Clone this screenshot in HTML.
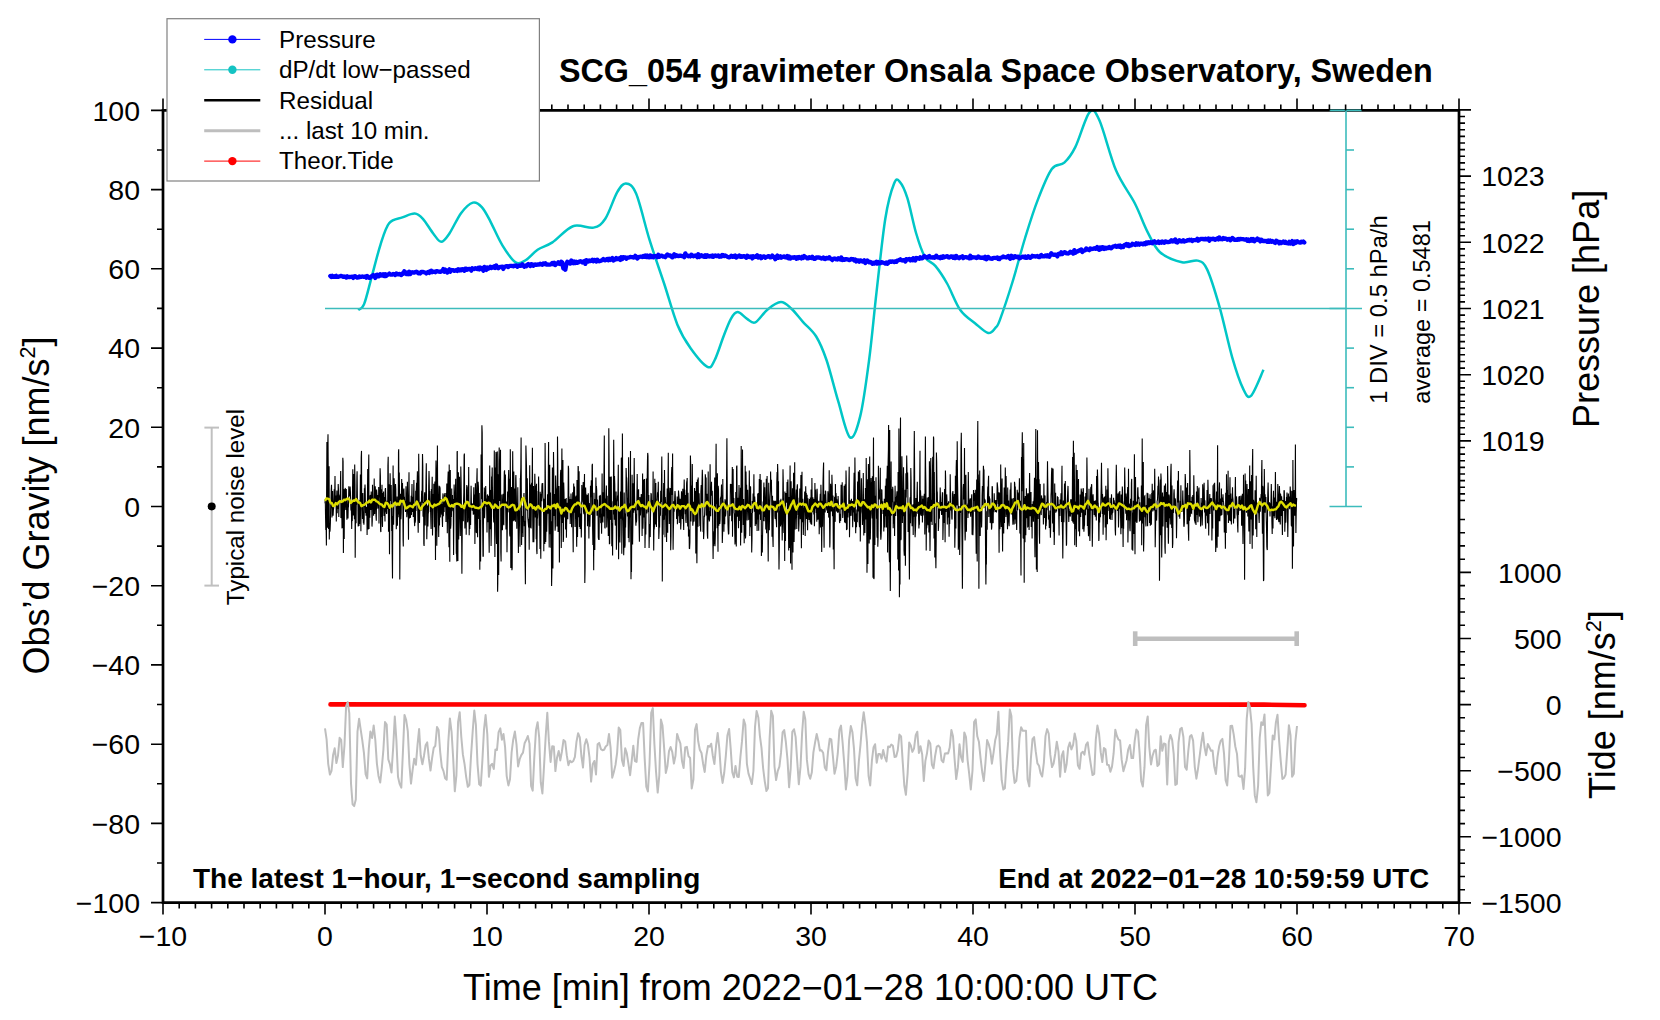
<!DOCTYPE html><html><head><meta charset="utf-8"><style>html,body{margin:0;padding:0;background:#fff;}svg{display:block;}text{font-family:"Liberation Sans",sans-serif;}</style></head><body>
<svg width="1660" height="1020" viewBox="0 0 1660 1020">
<rect width="1660" height="1020" fill="#fff"/>
<polyline fill="none" stroke="#000" stroke-width="1.1" shape-rendering="auto" points="325.0,503.3 325.3,499.2 325.5,514.1 325.8,530.1 326.1,523.4 326.4,545.6 326.6,496.4 326.9,442.0 327.2,514.4 327.4,527.7 327.7,448.9 328.0,434.3 328.2,466.9 328.5,529.1 328.8,474.4 329.1,466.3 329.3,539.6 329.6,523.5 329.9,531.8 330.1,530.0 330.4,522.5 330.7,504.9 330.9,508.1 331.2,490.3 331.5,484.7 331.8,498.8 332.0,517.6 332.3,506.2 332.6,491.1 332.8,500.2 333.1,515.8 333.4,509.8 333.6,509.1 333.9,504.2 334.2,489.2 334.5,507.0 334.7,496.6 335.0,476.1 335.3,503.9 335.5,505.1 335.8,495.4 336.1,503.8 336.3,521.5 336.6,499.5 336.9,490.4 337.2,513.3 337.4,494.8 337.7,499.8 338.0,508.9 338.2,484.1 338.5,490.0 338.8,516.9 339.0,503.3 339.3,495.6 339.6,502.3 339.9,494.6 340.1,503.0 340.4,485.9 340.7,471.1 340.9,518.1 341.2,512.0 341.5,502.4 341.7,502.6 342.0,527.7 342.3,527.6 342.6,507.1 342.8,457.7 343.1,461.4 343.4,553.0 343.6,519.7 343.9,488.9 344.2,538.9 344.4,511.9 344.7,500.0 345.0,490.3 345.3,487.9 345.5,504.4 345.8,509.9 346.1,493.9 346.3,489.0 346.6,505.6 346.9,519.8 347.1,499.6 347.4,504.1 347.7,514.6 348.0,518.4 348.2,508.0 348.5,506.5 348.8,486.3 349.0,491.6 349.3,496.3 349.6,489.4 349.8,496.5 350.1,486.6 350.4,491.8 350.7,502.5 350.9,510.6 351.2,503.1 351.5,516.2 351.7,528.9 352.0,510.6 352.3,521.1 352.5,493.2 352.8,469.2 353.1,505.6 353.4,515.5 353.6,477.7 353.9,474.1 354.2,507.3 354.4,519.3 354.7,464.6 355.0,484.2 355.2,557.8 355.5,511.6 355.8,500.8 356.1,523.3 356.3,500.6 356.6,504.9 356.9,476.4 357.1,471.3 357.4,498.3 357.7,499.6 357.9,502.2 358.2,526.4 358.5,510.8 358.8,503.1 359.0,525.9 359.3,504.0 359.6,523.9 359.8,500.1 360.1,503.5 360.4,474.5 360.6,491.4 360.9,531.2 361.2,457.4 361.5,450.9 361.7,501.5 362.0,504.5 362.3,511.0 362.5,519.1 362.8,493.0 363.1,511.9 363.4,523.2 363.6,511.4 363.9,524.8 364.2,518.2 364.4,488.3 364.7,492.2 365.0,484.5 365.2,488.4 365.5,513.1 365.8,508.4 366.1,515.7 366.3,506.9 366.6,509.5 366.9,515.7 367.1,535.1 367.4,506.6 367.7,469.0 367.9,504.5 368.2,529.6 368.5,472.0 368.8,454.5 369.0,529.1 369.3,505.2 369.6,508.3 369.8,517.7 370.1,495.8 370.4,495.5 370.6,504.9 370.9,509.9 371.2,491.5 371.5,500.7 371.7,502.4 372.0,526.6 372.3,520.6 372.5,484.7 372.8,504.2 373.1,503.9 373.3,498.0 373.6,515.8 373.9,509.1 374.2,478.4 374.4,502.6 374.7,513.9 375.0,501.3 375.2,486.2 375.5,491.2 375.8,500.0 376.0,516.0 376.3,520.7 376.6,489.6 376.9,493.8 377.1,508.8 377.4,501.9 377.7,494.9 377.9,495.6 378.2,500.8 378.5,508.5 378.7,486.9 379.0,523.4 379.3,497.1 379.6,490.3 379.8,497.5 380.1,468.3 380.4,476.5 380.6,530.6 380.9,532.1 381.2,489.2 381.4,516.9 381.7,505.7 382.0,484.7 382.3,523.4 382.5,526.9 382.8,494.9 383.1,492.9 383.3,501.1 383.6,491.5 383.9,510.6 384.1,516.1 384.4,497.0 384.7,509.2 385.0,521.4 385.2,489.6 385.5,488.0 385.8,499.1 386.0,511.0 386.3,511.8 386.6,513.9 386.8,512.6 387.1,500.8 387.4,509.0 387.7,503.0 387.9,465.8 388.2,456.7 388.5,531.8 388.7,493.7 389.0,484.2 389.3,515.9 389.5,554.3 389.8,511.8 390.1,473.2 390.4,492.4 390.6,500.8 390.9,499.0 391.2,484.9 391.4,500.5 391.7,531.1 392.0,516.1 392.2,554.0 392.5,578.6 392.8,517.7 393.1,465.6 393.3,497.3 393.6,524.7 393.9,507.9 394.1,478.2 394.4,487.7 394.7,500.7 394.9,502.1 395.2,499.1 395.5,484.1 395.8,488.9 396.0,507.3 396.3,529.3 396.6,511.2 396.8,512.8 397.1,496.5 397.4,525.7 397.7,508.1 397.9,504.4 398.2,517.2 398.5,451.7 398.7,449.2 399.0,514.6 399.3,472.6 399.5,491.1 399.8,579.4 400.1,526.4 400.4,493.7 400.6,515.2 400.9,519.3 401.2,513.0 401.4,496.4 401.7,479.0 402.0,496.9 402.2,501.9 402.5,482.9 402.8,503.3 403.1,540.0 403.3,546.6 403.6,491.1 403.9,488.5 404.1,497.6 404.4,496.9 404.7,502.7 404.9,500.9 405.2,508.5 405.5,512.0 405.8,505.5 406.0,486.3 406.3,496.8 406.6,506.2 406.8,517.3 407.1,513.5 407.4,481.8 407.6,494.4 407.9,504.3 408.2,508.7 408.5,539.8 408.7,496.4 409.0,472.2 409.3,512.7 409.5,518.4 409.8,501.7 410.1,506.4 410.3,518.0 410.6,514.8 410.9,505.7 411.2,495.7 411.4,515.0 411.7,498.3 412.0,483.9 412.2,506.8 412.5,511.9 412.8,496.7 413.0,499.0 413.3,516.9 413.6,496.2 413.9,479.9 414.1,504.5 414.4,521.4 414.7,526.1 414.9,505.9 415.2,522.6 415.5,519.8 415.7,490.8 416.0,511.1 416.3,489.8 416.6,482.8 416.8,501.4 417.1,485.1 417.4,471.3 417.6,500.0 417.9,520.1 418.2,532.8 418.4,510.8 418.7,453.8 419.0,478.8 419.3,517.8 419.5,522.9 419.8,509.7 420.1,502.3 420.3,508.2 420.6,505.3 420.9,501.6 421.1,510.7 421.4,499.9 421.7,490.8 422.0,502.7 422.2,487.8 422.5,454.1 422.8,466.1 423.0,515.7 423.3,517.0 423.6,502.1 423.8,543.6 424.1,546.0 424.4,497.3 424.7,492.3 424.9,509.0 425.2,525.6 425.5,504.9 425.7,506.5 426.0,481.0 426.3,463.2 426.5,494.3 426.8,539.2 427.1,523.4 427.4,505.4 427.6,512.0 427.9,526.4 428.2,513.6 428.4,513.0 428.7,487.8 429.0,471.0 429.2,478.3 429.5,502.7 429.8,491.0 430.1,501.7 430.3,512.0 430.6,510.4 430.9,523.5 431.1,529.1 431.4,489.0 431.7,506.6 431.9,494.2 432.2,476.7 432.5,535.4 432.8,520.8 433.0,494.1 433.3,498.1 433.6,508.7 433.8,483.8 434.1,498.7 434.4,527.3 434.7,517.9 434.9,481.4 435.2,503.6 435.5,560.1 435.7,488.6 436.0,460.4 436.3,472.9 436.5,497.5 436.8,545.7 437.1,516.7 437.4,445.5 437.6,483.2 437.9,488.4 438.2,505.5 438.4,513.2 438.7,536.9 439.0,509.3 439.2,485.7 439.5,525.4 439.8,486.7 440.1,488.6 440.3,517.6 440.6,508.1 440.9,502.0 441.1,499.2 441.4,511.3 441.7,514.7 441.9,504.0 442.2,517.9 442.5,526.9 442.8,497.2 443.0,493.4 443.3,516.3 443.6,504.7 443.8,509.6 444.1,512.1 444.4,494.6 444.6,500.5 444.9,492.9 445.2,507.3 445.5,499.6 445.7,504.9 446.0,522.0 446.3,492.9 446.5,502.4 446.8,483.6 447.1,501.6 447.3,533.3 447.6,509.0 447.9,479.7 448.2,471.4 448.4,508.5 448.7,523.9 449.0,547.3 449.2,464.5 449.5,524.7 449.8,561.8 450.0,488.5 450.3,470.0 450.6,528.8 450.9,524.8 451.1,512.9 451.4,517.1 451.7,488.4 451.9,511.2 452.2,508.4 452.5,494.9 452.7,506.3 453.0,498.9 453.3,512.4 453.6,555.0 453.8,528.2 454.1,484.6 454.4,496.8 454.6,502.9 454.9,493.4 455.2,502.9 455.4,491.4 455.7,478.7 456.0,513.5 456.3,553.8 456.5,550.4 456.8,561.5 457.1,452.1 457.3,451.1 457.6,543.5 457.9,560.9 458.1,483.0 458.4,472.3 458.7,539.4 459.0,516.0 459.2,498.8 459.5,476.8 459.8,511.0 460.0,512.8 460.3,535.9 460.6,518.3 460.8,466.4 461.1,481.7 461.4,506.9 461.7,543.2 461.9,573.8 462.2,534.1 462.5,507.5 462.7,510.8 463.0,514.6 463.3,521.2 463.5,503.5 463.8,492.8 464.1,455.2 464.4,453.6 464.6,504.4 464.9,528.5 465.2,503.7 465.4,524.1 465.7,522.9 466.0,514.9 466.2,534.8 466.5,490.7 466.8,485.0 467.1,488.4 467.3,486.5 467.6,522.3 467.9,520.5 468.1,502.8 468.4,507.5 468.7,467.0 468.9,500.2 469.2,535.3 469.5,503.8 469.8,529.1 470.0,509.0 470.3,506.6 470.6,525.1 470.8,502.7 471.1,485.7 471.4,503.2 471.7,503.8 471.9,506.0 472.2,510.6 472.5,507.9 472.7,503.5 473.0,505.4 473.3,514.8 473.5,502.2 473.8,487.3 474.1,514.3 474.4,500.9 474.6,494.4 474.9,543.9 475.2,499.8 475.4,483.3 475.7,492.4 476.0,491.4 476.2,532.2 476.5,532.4 476.8,479.8 477.1,468.2 477.3,507.1 477.6,537.2 477.9,494.6 478.1,481.8 478.4,486.6 478.7,503.9 478.9,519.1 479.2,492.9 479.5,511.9 479.8,569.8 480.0,520.1 480.3,525.0 480.6,561.6 480.8,513.2 481.1,454.4 481.4,499.3 481.6,483.1 481.9,425.2 482.2,432.8 482.5,498.6 482.7,527.3 483.0,556.2 483.3,556.2 483.5,505.6 483.8,512.7 484.1,507.2 484.3,487.5 484.6,518.3 484.9,505.8 485.2,494.8 485.4,494.8 485.7,486.0 486.0,500.5 486.2,506.8 486.5,498.6 486.8,516.5 487.0,532.6 487.3,495.7 487.6,494.5 487.9,506.1 488.1,522.2 488.4,515.3 488.7,495.7 488.9,533.4 489.2,552.8 489.5,508.4 489.7,465.4 490.0,493.9 490.3,529.3 490.6,490.7 490.8,491.0 491.1,546.0 491.4,527.1 491.6,476.5 491.9,485.9 492.2,467.6 492.4,485.8 492.7,505.8 493.0,502.0 493.3,499.2 493.5,516.8 493.8,522.5 494.1,480.5 494.3,450.6 494.6,525.9 494.9,557.0 495.1,478.5 495.4,467.4 495.7,482.3 496.0,452.1 496.2,532.8 496.5,543.9 496.8,514.5 497.0,456.5 497.3,451.4 497.6,591.8 497.8,583.3 498.1,474.3 498.4,558.1 498.7,574.9 498.9,464.3 499.2,447.6 499.5,487.9 499.7,501.0 500.0,462.8 500.3,469.2 500.5,449.8 500.8,552.6 501.1,561.4 501.4,506.4 501.6,529.1 501.9,494.6 502.2,507.8 502.4,530.2 502.7,518.8 503.0,510.4 503.2,493.7 503.5,520.2 503.8,525.3 504.1,483.7 504.3,471.8 504.6,470.3 504.9,505.9 505.1,497.1 505.4,474.4 505.7,506.8 506.0,529.6 506.2,509.2 506.5,501.5 506.8,524.4 507.0,552.3 507.3,525.8 507.6,491.6 507.8,511.5 508.1,512.3 508.4,480.1 508.7,470.1 508.9,484.7 509.2,478.7 509.5,510.5 509.7,533.9 510.0,536.4 510.3,449.2 510.5,491.6 510.8,568.1 511.1,552.0 511.4,507.7 511.6,487.1 511.9,570.3 512.2,567.9 512.4,508.8 512.7,451.2 513.0,489.4 513.2,521.2 513.5,491.8 513.8,471.6 514.1,515.4 514.3,520.5 514.6,489.7 514.9,488.5 515.1,514.0 515.4,521.8 515.7,478.3 515.9,475.1 516.2,490.1 516.5,505.1 516.8,528.8 517.0,503.6 517.3,503.5 517.6,503.4 517.8,487.3 518.1,526.4 518.4,552.9 518.6,507.0 518.9,515.3 519.2,526.3 519.5,510.5 519.7,529.8 520.0,546.8 520.3,478.1 520.5,478.9 520.8,467.7 521.1,437.6 521.3,487.9 521.6,545.1 521.9,517.7 522.2,532.7 522.4,516.5 522.7,516.3 523.0,536.9 523.2,505.7 523.5,522.0 523.8,495.9 524.0,493.1 524.3,526.3 524.6,520.8 524.9,523.9 525.1,560.1 525.4,584.3 525.7,515.4 525.9,445.4 526.2,456.1 526.5,467.7 526.7,491.2 527.0,510.5 527.3,478.2 527.6,503.6 527.8,517.4 528.1,521.2 528.4,524.8 528.6,527.4 528.9,518.7 529.2,549.7 529.4,511.2 529.7,465.3 530.0,503.6 530.3,527.7 530.5,484.5 530.8,491.9 531.1,528.4 531.3,511.4 531.6,482.8 531.9,504.1 532.1,489.5 532.4,447.7 532.7,519.3 533.0,542.3 533.2,505.1 533.5,486.0 533.8,542.3 534.0,535.9 534.3,509.8 534.6,495.1 534.8,473.7 535.1,485.7 535.4,517.4 535.7,485.5 535.9,495.5 536.2,539.3 536.5,483.7 536.7,550.0 537.0,554.1 537.3,516.9 537.5,518.4 537.8,512.0 538.1,490.9 538.4,492.0 538.6,476.6 538.9,500.1 539.2,525.7 539.4,513.3 539.7,523.4 540.0,549.0 540.2,491.7 540.5,538.8 540.8,558.8 541.1,500.1 541.3,493.7 541.6,501.2 541.9,486.4 542.1,483.3 542.4,492.8 542.7,483.0 543.0,497.2 543.2,498.7 543.5,502.2 543.8,551.2 544.0,516.8 544.3,498.8 544.6,516.3 544.8,544.0 545.1,443.0 545.4,481.6 545.7,541.9 545.9,534.2 546.2,510.5 546.5,510.9 546.7,531.8 547.0,516.7 547.3,510.5 547.5,494.3 547.8,510.4 548.1,513.8 548.4,462.5 548.6,442.1 548.9,520.4 549.2,547.4 549.4,500.2 549.7,464.8 550.0,532.8 550.2,534.3 550.5,492.5 550.8,547.8 551.1,535.4 551.3,521.2 551.6,585.9 551.9,571.1 552.1,507.6 552.4,467.6 552.7,495.9 552.9,568.4 553.2,507.6 553.5,452.0 553.8,475.7 554.0,513.6 554.3,516.0 554.6,494.1 554.8,510.8 555.1,530.8 555.4,526.7 555.6,475.6 555.9,485.8 556.2,490.2 556.5,507.3 556.7,488.4 557.0,526.4 557.3,512.5 557.5,436.6 557.8,464.6 558.1,532.1 558.3,516.8 558.6,497.6 558.9,486.0 559.2,526.7 559.4,562.6 559.7,520.3 560.0,514.2 560.2,512.8 560.5,474.3 560.8,469.9 561.0,485.3 561.3,548.1 561.6,479.2 561.9,448.5 562.1,482.7 562.4,522.9 562.7,493.6 562.9,460.0 563.2,542.0 563.5,538.8 563.7,482.5 564.0,492.9 564.3,517.5 564.6,507.7 564.8,508.6 565.1,499.1 565.4,508.6 565.6,529.4 565.9,506.1 566.2,498.0 566.4,537.7 566.7,519.4 567.0,502.7 567.3,516.5 567.5,513.2 567.8,519.2 568.1,495.3 568.3,465.7 568.6,468.7 568.9,510.9 569.1,496.6 569.4,509.9 569.7,504.5 570.0,498.9 570.2,524.1 570.5,510.1 570.8,503.6 571.0,493.4 571.3,503.0 571.6,527.2 571.8,501.2 572.1,499.3 572.4,510.1 572.7,492.3 572.9,527.1 573.2,552.2 573.5,495.7 573.7,483.4 574.0,512.8 574.3,502.8 574.5,486.4 574.8,508.4 575.1,527.0 575.4,500.1 575.6,496.6 575.9,519.1 576.2,495.5 576.4,525.3 576.7,546.7 577.0,480.1 577.3,505.6 577.5,536.9 577.8,518.2 578.1,466.1 578.3,466.9 578.6,517.2 578.9,486.2 579.1,471.3 579.4,526.9 579.7,501.6 580.0,506.9 580.2,528.9 580.5,523.7 580.8,513.6 581.0,514.9 581.3,537.5 581.6,519.4 581.8,485.0 582.1,502.5 582.4,497.6 582.7,491.9 582.9,492.3 583.2,482.0 583.5,510.7 583.7,512.9 584.0,514.2 584.3,484.1 584.5,474.1 584.8,583.1 585.1,567.7 585.4,490.2 585.6,487.4 585.9,497.4 586.2,510.7 586.4,495.8 586.7,499.3 587.0,495.2 587.2,495.3 587.5,526.2 587.8,508.1 588.1,510.8 588.3,493.3 588.6,512.5 588.9,538.4 589.1,503.1 589.4,514.6 589.7,525.4 589.9,526.7 590.2,512.1 590.5,485.8 590.8,489.7 591.0,497.2 591.3,480.3 591.6,488.4 591.8,515.0 592.1,465.5 592.4,463.8 592.6,528.7 592.9,545.0 593.2,511.5 593.5,544.4 593.7,570.3 594.0,492.8 594.3,526.3 594.5,530.3 594.8,549.9 595.1,499.0 595.3,501.2 595.6,510.4 595.9,477.6 596.2,494.5 596.4,486.0 596.7,490.3 597.0,515.7 597.2,512.7 597.5,499.5 597.8,507.8 598.0,507.1 598.3,537.3 598.6,539.6 598.9,520.5 599.1,539.9 599.4,495.8 599.7,502.8 599.9,517.4 600.2,494.9 600.5,496.2 600.7,522.5 601.0,523.1 601.3,513.8 601.6,533.7 601.8,517.3 602.1,473.4 602.4,515.0 602.6,505.0 602.9,522.6 603.2,492.2 603.4,495.0 603.7,516.5 604.0,469.9 604.3,435.4 604.5,480.3 604.8,527.4 605.1,528.4 605.3,498.4 605.6,501.3 605.9,504.1 606.1,494.4 606.4,485.5 606.7,527.5 607.0,516.6 607.2,495.7 607.5,513.1 607.8,517.6 608.0,510.7 608.3,536.0 608.6,506.4 608.8,428.2 609.1,460.6 609.4,544.2 609.7,543.3 609.9,493.0 610.2,476.8 610.5,519.3 610.7,519.2 611.0,482.3 611.3,476.5 611.5,516.8 611.8,546.2 612.1,533.2 612.4,523.2 612.6,555.4 612.9,501.2 613.2,514.6 613.4,498.4 613.7,439.8 614.0,477.6 614.3,519.8 614.5,476.0 614.8,484.8 615.1,516.7 615.3,525.5 615.6,524.3 615.9,518.9 616.1,491.4 616.4,549.8 616.7,536.0 617.0,500.9 617.2,501.8 617.5,495.5 617.8,497.1 618.0,490.7 618.3,464.7 618.6,559.3 618.8,526.0 619.1,517.1 619.4,513.8 619.7,507.8 619.9,542.4 620.2,523.3 620.5,491.6 620.7,507.1 621.0,518.7 621.3,458.4 621.5,457.5 621.8,553.8 622.1,505.6 622.4,433.4 622.6,471.1 622.9,516.2 623.2,520.8 623.4,537.1 623.7,555.3 624.0,544.6 624.2,492.6 624.5,522.9 624.8,547.7 625.1,544.9 625.3,513.4 625.6,527.6 625.9,510.7 626.1,468.1 626.4,477.2 626.7,477.8 626.9,482.9 627.2,494.3 627.5,516.6 627.8,503.8 628.0,497.8 628.3,538.0 628.6,457.3 628.8,480.0 629.1,542.3 629.4,522.5 629.6,504.3 629.9,503.8 630.2,517.6 630.5,451.0 630.7,530.1 631.0,579.2 631.3,554.5 631.5,571.9 631.8,526.6 632.1,474.7 632.3,496.4 632.6,544.5 632.9,522.2 633.2,483.3 633.4,498.0 633.7,512.7 634.0,484.7 634.2,458.1 634.5,490.4 634.8,510.4 635.0,505.4 635.3,503.7 635.6,519.5 635.9,525.7 636.1,513.8 636.4,522.4 636.7,519.7 636.9,499.2 637.2,473.9 637.5,506.5 637.7,510.3 638.0,502.0 638.3,491.3 638.6,489.3 638.8,515.0 639.1,526.4 639.4,541.7 639.6,525.3 639.9,497.0 640.2,502.8 640.4,515.5 640.7,508.5 641.0,499.5 641.3,494.0 641.5,505.9 641.8,507.7 642.1,536.0 642.3,515.1 642.6,473.4 642.9,528.8 643.1,522.2 643.4,479.5 643.7,505.3 644.0,517.4 644.2,501.6 644.5,479.0 644.8,517.7 645.0,548.1 645.3,529.6 645.6,527.9 645.8,534.4 646.1,509.5 646.4,478.6 646.7,489.2 646.9,513.4 647.2,479.2 647.5,459.2 647.7,452.9 648.0,455.8 648.3,512.2 648.5,506.8 648.8,495.1 649.1,548.1 649.4,533.0 649.6,524.0 649.9,532.8 650.2,537.1 650.4,522.0 650.7,505.5 651.0,493.7 651.3,493.9 651.5,503.6 651.8,507.4 652.1,507.2 652.3,500.1 652.6,506.9 652.9,500.4 653.1,471.4 653.4,510.5 653.7,550.4 654.0,522.7 654.2,529.5 654.5,525.8 654.8,478.7 655.0,504.9 655.3,524.6 655.6,499.2 655.8,483.1 656.1,518.1 656.4,526.9 656.7,511.4 656.9,502.8 657.2,499.9 657.5,492.8 657.7,492.8 658.0,493.3 658.3,481.8 658.5,500.7 658.8,538.9 659.1,531.5 659.4,519.5 659.6,527.4 659.9,501.7 660.2,513.8 660.4,515.8 660.7,490.8 661.0,492.5 661.2,502.1 661.5,480.6 661.8,456.4 662.1,507.9 662.3,581.4 662.6,532.9 662.9,515.1 663.1,534.7 663.4,503.0 663.7,482.9 663.9,519.0 664.2,518.5 664.5,470.0 664.8,502.7 665.0,537.3 665.3,496.9 665.6,504.1 665.8,515.5 666.1,502.7 666.4,512.7 666.6,541.9 666.9,502.2 667.2,488.4 667.5,524.3 667.7,532.8 668.0,483.7 668.3,452.7 668.5,510.0 668.8,487.5 669.1,502.3 669.3,523.9 669.6,500.0 669.9,496.7 670.2,487.9 670.4,515.8 670.7,550.2 671.0,536.7 671.2,495.3 671.5,475.0 671.8,467.1 672.0,495.1 672.3,479.1 672.6,453.5 672.9,516.0 673.1,549.7 673.4,528.7 673.7,518.1 673.9,501.3 674.2,511.8 674.5,503.7 674.7,497.6 675.0,491.0 675.3,495.2 675.6,507.3 675.8,508.7 676.1,505.6 676.4,507.7 676.6,519.1 676.9,507.8 677.2,496.6 677.4,524.3 677.7,514.1 678.0,516.3 678.3,501.6 678.5,490.6 678.8,494.8 679.1,498.2 679.3,522.9 679.6,499.1 679.9,511.6 680.1,498.7 680.4,506.8 680.7,529.5 681.0,523.1 681.2,502.0 681.5,491.3 681.8,498.8 682.0,510.0 682.3,519.0 682.6,497.9 682.8,488.8 683.1,507.0 683.4,520.1 683.7,529.9 683.9,494.3 684.2,479.5 684.5,497.6 684.7,489.8 685.0,506.7 685.3,514.3 685.6,495.0 685.8,520.1 686.1,522.9 686.4,498.4 686.6,482.7 686.9,481.5 687.2,478.0 687.4,516.2 687.7,526.6 688.0,492.8 688.3,513.6 688.5,536.6 688.8,532.6 689.1,529.6 689.3,548.3 689.6,548.4 689.9,542.5 690.1,506.2 690.4,455.6 690.7,465.6 691.0,521.5 691.2,510.0 691.5,485.6 691.8,506.8 692.0,509.0 692.3,464.1 692.6,505.6 692.8,525.7 693.1,521.8 693.4,502.8 693.7,502.4 693.9,521.6 694.2,520.3 694.5,488.0 694.7,491.6 695.0,513.2 695.3,491.1 695.5,492.5 695.8,553.4 696.1,521.9 696.4,481.9 696.6,535.9 696.9,563.3 697.2,528.3 697.4,479.6 697.7,493.0 698.0,526.7 698.2,477.6 698.5,503.5 698.8,501.3 699.1,493.2 699.3,499.5 699.6,515.5 699.9,525.9 700.1,505.0 700.4,526.2 700.7,531.6 700.9,491.8 701.2,485.1 701.5,491.4 701.8,506.8 702.0,483.4 702.3,469.8 702.6,479.3 702.8,511.7 703.1,532.0 703.4,522.9 703.6,539.1 703.9,532.7 704.2,515.8 704.5,517.3 704.7,512.1 705.0,502.4 705.3,474.2 705.5,476.7 705.8,493.6 706.1,477.6 706.3,515.6 706.6,511.7 706.9,493.7 707.2,529.5 707.4,535.6 707.7,538.8 708.0,505.0 708.2,471.6 708.5,519.8 708.8,511.0 709.0,513.0 709.3,521.5 709.6,518.9 709.9,492.9 710.1,464.3 710.4,504.6 710.7,516.2 710.9,487.5 711.2,494.7 711.5,481.8 711.7,493.6 712.0,495.7 712.3,490.8 712.6,516.4 712.8,538.9 713.1,558.9 713.4,535.8 713.6,546.0 713.9,531.3 714.2,544.2 714.4,500.1 714.7,477.5 715.0,546.2 715.3,536.6 715.5,524.7 715.8,477.3 716.1,443.8 716.3,483.1 716.6,504.3 716.9,492.1 717.1,528.2 717.4,473.3 717.7,523.9 718.0,551.7 718.2,485.7 718.5,489.6 718.8,525.8 719.0,512.0 719.3,505.8 719.6,509.2 719.8,524.0 720.1,519.7 720.4,498.5 720.7,497.6 720.9,498.2 721.2,496.0 721.5,484.4 721.7,504.0 722.0,507.7 722.3,543.1 722.6,533.0 722.8,479.0 723.1,523.9 723.4,504.2 723.6,501.7 723.9,531.8 724.2,511.8 724.4,517.3 724.7,524.3 725.0,499.3 725.3,501.7 725.5,516.4 725.8,513.8 726.1,502.9 726.3,504.8 726.6,475.2 726.9,438.3 727.1,468.9 727.4,508.7 727.7,509.5 728.0,525.0 728.2,530.0 728.5,534.4 728.8,533.7 729.0,522.2 729.3,505.0 729.6,509.2 729.8,515.9 730.1,514.4 730.4,483.9 730.7,490.1 730.9,490.9 731.2,483.9 731.5,494.6 731.7,521.2 732.0,493.7 732.3,467.0 732.5,536.7 732.8,499.1 733.1,469.1 733.4,505.5 733.6,498.2 733.9,498.5 734.2,513.6 734.4,512.9 734.7,528.4 735.0,544.4 735.2,541.1 735.5,521.7 735.8,491.9 736.1,508.9 736.3,546.4 736.6,466.8 736.9,465.6 737.1,499.7 737.4,516.6 737.7,513.2 737.9,497.8 738.2,508.9 738.5,528.2 738.8,499.0 739.0,485.0 739.3,520.9 739.6,504.7 739.8,499.0 740.1,505.4 740.4,487.8 740.6,545.6 740.9,515.9 741.2,445.9 741.5,519.1 741.7,532.8 742.0,511.9 742.3,490.1 742.5,449.5 742.8,504.1 743.1,499.7 743.3,525.0 743.6,498.9 743.9,509.6 744.2,543.2 744.4,517.9 744.7,536.2 745.0,515.7 745.2,465.7 745.5,538.5 745.8,533.2 746.0,471.6 746.3,491.2 746.6,484.7 746.9,502.1 747.1,520.6 747.4,511.4 747.7,489.7 747.9,499.9 748.2,511.7 748.5,508.9 748.7,519.3 749.0,519.0 749.3,470.5 749.6,497.3 749.8,535.9 750.1,512.3 750.4,486.3 750.6,487.1 750.9,527.1 751.2,521.6 751.4,513.0 751.7,552.4 752.0,539.5 752.3,500.9 752.5,513.0 752.8,506.4 753.1,493.6 753.3,501.5 753.6,502.9 753.9,474.3 754.1,496.3 754.4,511.8 754.7,496.6 755.0,502.6 755.2,526.1 755.5,505.9 755.8,510.6 756.0,524.3 756.3,511.5 756.6,503.6 756.8,512.3 757.1,531.0 757.4,514.5 757.7,493.4 757.9,507.4 758.2,519.5 758.5,493.1 758.7,530.8 759.0,507.8 759.3,479.0 759.6,514.4 759.8,509.8 760.1,474.1 760.4,499.5 760.6,520.0 760.9,479.9 761.2,480.5 761.4,556.0 761.7,545.7 762.0,534.9 762.3,552.5 762.5,539.5 762.8,522.4 763.1,501.4 763.3,521.1 763.6,494.0 763.9,482.4 764.1,521.2 764.4,501.0 764.7,487.2 765.0,502.0 765.2,516.9 765.5,514.1 765.8,529.5 766.0,499.0 766.3,478.8 766.6,533.3 766.8,512.0 767.1,476.0 767.4,507.3 767.7,506.4 767.9,528.1 768.2,561.4 768.5,510.5 768.7,482.8 769.0,512.8 769.3,530.3 769.5,518.1 769.8,506.6 770.1,496.5 770.4,490.8 770.6,471.6 770.9,486.8 771.2,484.6 771.4,479.7 771.7,500.7 772.0,536.8 772.2,518.8 772.5,495.8 772.8,537.1 773.1,546.9 773.3,500.6 773.6,503.1 773.9,510.5 774.1,506.8 774.4,502.8 774.7,500.8 774.9,516.3 775.2,519.0 775.5,500.7 775.8,503.0 776.0,519.0 776.3,521.3 776.6,527.3 776.8,482.4 777.1,472.0 777.4,512.6 777.6,463.9 777.9,473.5 778.2,507.5 778.5,481.2 778.7,538.1 779.0,569.6 779.3,547.3 779.5,512.1 779.8,512.6 780.1,500.3 780.3,503.6 780.6,526.6 780.9,498.7 781.2,519.2 781.4,524.8 781.7,500.7 782.0,526.4 782.2,540.5 782.5,522.7 782.8,494.6 783.0,469.3 783.3,482.7 783.6,520.1 783.9,533.1 784.1,510.2 784.4,512.7 784.7,560.9 784.9,491.5 785.2,515.1 785.5,541.1 785.7,502.8 786.0,493.0 786.3,501.7 786.6,499.8 786.8,502.6 787.1,482.0 787.4,490.2 787.6,509.3 787.9,479.5 788.2,497.7 788.4,521.0 788.7,550.4 789.0,512.1 789.3,496.9 789.5,548.0 789.8,498.9 790.1,465.4 790.3,500.4 790.6,563.5 790.9,505.9 791.1,481.2 791.4,511.2 791.7,530.5 792.0,569.7 792.2,506.1 792.5,488.3 792.8,496.9 793.0,552.6 793.3,495.1 793.6,472.8 793.9,476.9 794.1,542.1 794.4,516.0 794.7,462.2 794.9,517.2 795.2,529.6 795.5,514.7 795.7,518.1 796.0,496.4 796.3,489.4 796.6,514.5 796.8,529.1 797.1,486.7 797.4,484.2 797.6,498.0 797.9,498.1 798.2,515.1 798.4,513.5 798.7,531.5 799.0,524.8 799.3,507.1 799.5,510.4 799.8,488.5 800.1,502.1 800.3,519.3 800.6,497.3 800.9,475.0 801.1,496.1 801.4,548.2 801.7,498.0 802.0,471.7 802.2,522.2 802.5,517.2 802.8,498.7 803.0,506.6 803.3,535.0 803.6,521.3 803.8,513.5 804.1,508.8 804.4,506.2 804.7,491.4 804.9,497.5 805.2,536.1 805.5,498.3 805.7,486.2 806.0,498.7 806.3,492.9 806.5,519.0 806.8,516.8 807.1,494.8 807.4,520.8 807.6,530.3 807.9,498.3 808.2,505.3 808.4,510.2 808.7,514.8 809.0,519.9 809.2,516.3 809.5,499.1 809.8,504.7 810.1,522.6 810.3,497.4 810.6,514.1 810.9,524.2 811.1,489.6 811.4,513.1 811.7,524.8 811.9,478.0 812.2,507.0 812.5,512.3 812.8,497.3 813.0,498.7 813.3,508.3 813.6,508.0 813.8,514.6 814.1,498.9 814.4,526.2 814.6,519.8 814.9,483.1 815.2,507.0 815.5,508.7 815.7,489.5 816.0,504.3 816.3,513.1 816.5,504.4 816.8,521.7 817.1,488.8 817.3,494.6 817.6,513.9 817.9,519.7 818.2,500.8 818.4,509.6 818.7,519.0 819.0,501.5 819.2,534.2 819.5,520.6 819.8,502.3 820.0,499.4 820.3,493.9 820.6,527.5 820.9,484.8 821.1,492.6 821.4,524.8 821.7,552.0 821.9,527.8 822.2,500.8 822.5,526.7 822.7,511.0 823.0,482.7 823.3,469.8 823.6,462.4 823.8,525.4 824.1,547.8 824.4,494.3 824.6,496.3 824.9,500.8 825.2,512.5 825.4,490.7 825.7,491.5 826.0,500.9 826.3,503.9 826.5,507.1 826.8,510.5 827.1,505.1 827.3,503.3 827.6,512.9 827.9,491.3 828.1,501.4 828.4,493.0 828.7,517.6 829.0,516.2 829.2,470.2 829.5,514.8 829.8,547.4 830.0,542.3 830.3,511.8 830.6,483.8 830.9,491.0 831.1,503.0 831.4,511.5 831.7,506.3 831.9,474.7 832.2,484.4 832.5,516.2 832.7,495.8 833.0,496.1 833.3,549.4 833.6,508.4 833.8,523.3 834.1,569.3 834.4,507.3 834.6,496.7 834.9,521.9 835.2,521.1 835.4,484.0 835.7,500.7 836.0,493.1 836.3,497.0 836.5,511.5 836.8,499.3 837.1,507.4 837.3,509.9 837.6,512.7 837.9,506.6 838.1,496.1 838.4,503.8 838.7,512.5 839.0,508.5 839.2,505.3 839.5,521.9 839.8,523.0 840.0,513.8 840.3,514.6 840.6,520.9 840.8,516.6 841.1,484.8 841.4,491.1 841.7,509.5 841.9,506.8 842.2,482.2 842.5,503.5 842.7,517.9 843.0,513.3 843.3,505.0 843.5,503.9 843.8,505.8 844.1,485.8 844.4,516.6 844.6,522.5 844.9,515.5 845.2,484.3 845.4,506.4 845.7,523.2 846.0,470.6 846.2,478.0 846.5,530.1 846.8,526.7 847.1,529.4 847.3,511.6 847.6,504.4 847.9,517.4 848.1,510.7 848.4,510.0 848.7,512.6 848.9,484.5 849.2,466.7 849.5,537.2 849.8,516.8 850.0,500.8 850.3,501.1 850.6,512.1 850.8,515.2 851.1,515.8 851.4,498.7 851.6,504.2 851.9,509.8 852.2,501.1 852.5,516.2 852.7,527.3 853.0,501.0 853.3,503.2 853.5,512.4 853.8,489.5 854.1,472.7 854.3,519.2 854.6,521.8 854.9,457.6 855.2,483.1 855.4,518.1 855.7,533.2 856.0,513.4 856.2,521.9 856.5,527.2 856.8,509.4 857.0,520.9 857.3,521.2 857.6,481.4 857.9,508.8 858.1,511.5 858.4,471.6 858.7,473.5 858.9,505.9 859.2,522.1 859.5,527.3 859.7,469.9 860.0,490.4 860.3,541.6 860.6,511.7 860.8,499.6 861.1,503.9 861.4,478.2 861.6,490.2 861.9,511.6 862.2,514.0 862.4,525.1 862.7,516.0 863.0,496.3 863.3,473.0 863.5,504.8 863.8,535.6 864.1,515.3 864.3,499.2 864.6,526.5 864.9,532.9 865.2,506.4 865.4,488.1 865.7,505.3 866.0,519.6 866.2,458.1 866.5,488.3 866.8,537.6 867.0,572.7 867.3,529.4 867.6,479.3 867.9,564.0 868.1,514.5 868.4,464.1 868.7,493.3 868.9,512.7 869.2,543.4 869.5,475.2 869.7,456.6 870.0,507.5 870.3,539.5 870.6,523.6 870.8,489.0 871.1,478.0 871.4,497.2 871.6,482.0 871.9,513.7 872.2,518.4 872.4,476.2 872.7,494.7 873.0,577.7 873.3,463.9 873.5,437.5 873.8,579.0 874.1,577.9 874.3,481.1 874.6,524.5 874.9,545.0 875.1,495.7 875.4,499.8 875.7,507.9 876.0,477.2 876.2,498.0 876.5,518.7 876.8,507.5 877.0,536.3 877.3,537.9 877.6,507.7 877.8,546.7 878.1,537.2 878.4,465.7 878.7,487.6 878.9,491.0 879.2,499.5 879.5,492.7 879.7,489.8 880.0,496.8 880.3,467.8 880.5,531.5 880.8,539.8 881.1,536.4 881.4,526.6 881.6,489.9 881.9,490.1 882.2,509.7 882.4,506.3 882.7,501.3 883.0,514.0 883.2,513.4 883.5,509.4 883.8,531.5 884.1,512.7 884.3,498.7 884.6,514.2 884.9,527.4 885.1,513.3 885.4,485.7 885.7,516.2 885.9,491.2 886.2,478.5 886.5,527.4 886.8,525.9 887.0,479.5 887.3,465.8 887.6,552.6 887.8,534.3 888.1,463.4 888.4,450.0 888.6,425.0 888.9,496.2 889.2,553.9 889.5,562.2 889.7,430.1 890.0,548.6 890.3,590.9 890.5,559.2 890.8,497.6 891.1,461.4 891.3,512.6 891.6,515.6 891.9,490.5 892.2,488.9 892.4,502.2 892.7,486.8 893.0,491.0 893.2,528.3 893.5,510.3 893.8,523.6 894.0,521.3 894.3,501.4 894.6,536.1 894.9,498.0 895.1,485.7 895.4,510.3 895.7,516.0 895.9,509.7 896.2,497.8 896.5,497.0 896.7,495.7 897.0,491.3 897.3,505.7 897.6,516.9 897.8,559.5 898.1,471.9 898.4,496.5 898.6,570.4 898.9,428.5 899.2,485.7 899.4,597.2 899.7,569.4 900.0,584.6 900.3,441.9 900.5,417.6 900.8,540.1 901.1,539.0 901.3,504.6 901.6,497.9 901.9,456.2 902.2,481.9 902.4,522.9 902.7,488.4 903.0,516.1 903.2,513.8 903.5,467.2 903.8,488.4 904.0,550.5 904.3,555.7 904.6,547.8 904.9,509.7 905.1,489.7 905.4,565.8 905.7,517.5 905.9,473.2 906.2,497.5 906.5,479.6 906.7,455.5 907.0,471.3 907.3,489.0 907.6,472.4 907.8,482.9 908.1,532.0 908.4,502.7 908.6,506.1 908.9,522.1 909.2,552.8 909.4,579.5 909.7,533.3 910.0,499.0 910.3,497.1 910.5,523.2 910.8,468.1 911.1,480.7 911.3,506.4 911.6,508.7 911.9,517.5 912.1,526.3 912.4,519.9 912.7,504.5 913.0,515.0 913.2,534.9 913.5,504.2 913.8,516.8 914.0,473.3 914.3,430.9 914.6,468.8 914.8,518.4 915.1,537.3 915.4,531.1 915.7,522.2 915.9,497.9 916.2,516.5 916.5,509.7 916.7,511.5 917.0,493.5 917.3,481.8 917.5,502.6 917.8,513.8 918.1,509.7 918.4,501.8 918.6,518.7 918.9,528.6 919.2,519.9 919.4,524.7 919.7,482.8 920.0,450.7 920.2,514.8 920.5,490.2 920.8,497.5 921.1,516.0 921.3,508.6 921.6,514.5 921.9,509.9 922.1,495.7 922.4,522.6 922.7,510.0 922.9,498.8 923.2,515.6 923.5,508.1 923.8,495.8 924.0,509.2 924.3,493.8 924.6,502.6 924.8,534.5 925.1,480.5 925.4,436.4 925.6,466.4 925.9,485.2 926.2,550.4 926.5,516.6 926.7,528.3 927.0,522.5 927.3,497.6 927.5,513.8 927.8,515.4 928.1,525.3 928.3,509.1 928.6,497.0 928.9,532.6 929.2,514.5 929.4,461.3 929.7,523.9 930.0,550.9 930.2,534.9 930.5,472.7 930.8,458.0 931.0,505.9 931.3,521.7 931.6,510.8 931.9,499.7 932.1,525.0 932.4,478.5 932.7,456.8 932.9,508.7 933.2,488.4 933.5,436.5 933.7,438.5 934.0,538.6 934.3,472.1 934.6,524.2 934.8,557.5 935.1,523.3 935.4,528.0 935.6,552.5 935.9,568.2 936.2,540.0 936.4,452.5 936.7,462.3 937.0,490.8 937.3,492.5 937.5,507.1 937.8,505.9 938.1,502.1 938.3,530.9 938.6,526.0 938.9,508.4 939.2,516.1 939.4,518.7 939.7,504.2 940.0,499.6 940.2,487.4 940.5,499.3 940.8,511.1 941.0,502.0 941.3,505.0 941.6,514.9 941.9,512.4 942.1,498.4 942.4,492.7 942.7,492.8 942.9,539.9 943.2,526.9 943.5,507.7 943.7,507.3 944.0,516.1 944.3,523.0 944.6,488.9 944.8,506.4 945.1,542.3 945.4,470.4 945.6,476.5 945.9,512.1 946.2,500.6 946.4,510.0 946.7,494.4 947.0,500.7 947.3,524.5 947.5,513.6 947.8,517.5 948.1,504.4 948.3,504.7 948.6,501.3 948.9,518.2 949.1,536.8 949.4,513.5 949.7,524.0 950.0,505.0 950.2,474.2 950.5,494.8 950.8,510.4 951.0,504.6 951.3,504.2 951.6,509.8 951.8,518.3 952.1,519.6 952.4,492.6 952.7,497.1 952.9,491.0 953.2,503.6 953.5,508.0 953.7,509.1 954.0,501.0 954.3,494.1 954.5,508.1 954.8,547.7 955.1,532.7 955.4,475.7 955.6,517.1 955.9,528.5 956.2,467.5 956.4,459.9 956.7,504.4 957.0,505.4 957.2,441.2 957.5,478.0 957.8,494.9 958.1,505.4 958.3,549.7 958.6,545.6 958.9,507.5 959.1,505.9 959.4,524.2 959.7,554.9 959.9,534.2 960.2,508.2 960.5,513.1 960.8,493.7 961.0,449.1 961.3,432.8 961.6,467.5 961.8,522.0 962.1,550.7 962.4,588.7 962.6,562.4 962.9,512.3 963.2,488.8 963.5,484.1 963.7,485.5 964.0,499.4 964.3,481.8 964.5,448.0 964.8,525.8 965.1,540.5 965.3,536.4 965.6,476.3 965.9,474.8 966.2,506.3 966.4,531.7 966.7,510.1 967.0,504.9 967.2,511.6 967.5,507.8 967.8,503.9 968.0,518.1 968.3,471.9 968.6,492.7 968.9,513.3 969.1,512.3 969.4,510.8 969.7,499.6 969.9,506.6 970.2,498.3 970.5,513.2 970.7,516.7 971.0,498.4 971.3,512.7 971.6,496.7 971.8,494.3 972.1,534.7 972.4,531.1 972.6,508.4 972.9,535.2 973.2,525.8 973.5,490.1 973.7,497.5 974.0,500.3 974.3,500.3 974.5,493.0 974.8,511.8 975.1,507.5 975.3,489.8 975.6,505.2 975.9,527.7 976.2,553.7 976.4,505.9 976.7,479.4 977.0,517.6 977.2,561.5 977.5,450.2 977.8,421.1 978.0,512.3 978.3,474.4 978.6,490.6 978.9,588.8 979.1,536.8 979.4,506.1 979.7,470.5 979.9,507.8 980.2,536.1 980.5,510.9 980.7,507.7 981.0,516.3 981.3,514.0 981.6,527.4 981.8,520.3 982.1,495.5 982.4,486.1 982.6,499.1 982.9,505.1 983.2,476.8 983.4,465.8 983.7,471.0 984.0,469.5 984.3,507.5 984.5,501.9 984.8,499.5 985.1,500.1 985.3,501.1 985.6,562.2 985.9,584.4 986.1,561.1 986.4,564.5 986.7,512.1 987.0,510.8 987.2,529.7 987.5,497.0 987.8,486.5 988.0,503.7 988.3,481.5 988.6,475.7 988.8,517.1 989.1,497.5 989.4,497.2 989.7,502.1 989.9,498.5 990.2,523.1 990.5,518.9 990.7,519.3 991.0,513.5 991.3,506.0 991.5,529.6 991.8,527.1 992.1,486.3 992.4,487.1 992.6,503.2 992.9,523.1 993.2,522.5 993.4,505.8 993.7,510.4 994.0,510.9 994.2,493.3 994.5,503.8 994.8,510.3 995.1,501.0 995.3,500.2 995.6,512.1 995.9,499.9 996.1,501.8 996.4,512.4 996.7,510.7 996.9,499.2 997.2,482.4 997.5,485.3 997.8,489.1 998.0,498.2 998.3,504.0 998.6,492.2 998.8,518.3 999.1,552.7 999.4,492.5 999.6,504.4 999.9,529.3 1000.2,518.9 1000.5,513.5 1000.7,464.4 1001.0,495.4 1001.3,527.0 1001.5,503.4 1001.8,496.5 1002.1,478.4 1002.3,528.2 1002.6,551.5 1002.9,510.0 1003.2,505.1 1003.4,519.0 1003.7,533.5 1004.0,498.5 1004.2,487.6 1004.5,523.1 1004.8,504.2 1005.0,499.8 1005.3,467.4 1005.6,488.0 1005.9,516.9 1006.1,475.9 1006.4,494.9 1006.7,514.8 1006.9,494.8 1007.2,515.9 1007.5,529.2 1007.7,487.5 1008.0,508.0 1008.3,522.6 1008.6,500.4 1008.8,523.7 1009.1,526.2 1009.4,511.3 1009.6,512.9 1009.9,502.0 1010.2,489.4 1010.5,509.0 1010.7,490.3 1011.0,482.4 1011.3,514.6 1011.5,508.7 1011.8,514.0 1012.1,499.9 1012.3,498.5 1012.6,515.8 1012.9,524.7 1013.2,514.7 1013.4,515.4 1013.7,497.9 1014.0,508.4 1014.2,524.6 1014.5,481.8 1014.8,484.0 1015.0,519.5 1015.3,486.5 1015.6,513.8 1015.9,523.8 1016.1,511.3 1016.4,520.4 1016.7,529.9 1016.9,512.8 1017.2,489.7 1017.5,494.2 1017.7,510.3 1018.0,492.4 1018.3,499.5 1018.6,500.0 1018.8,500.4 1019.1,500.7 1019.4,478.3 1019.6,512.3 1019.9,533.6 1020.2,500.8 1020.4,508.2 1020.7,543.7 1021.0,575.6 1021.3,497.1 1021.5,456.9 1021.8,491.3 1022.1,448.5 1022.3,432.3 1022.6,470.0 1022.9,459.6 1023.1,537.6 1023.4,538.5 1023.7,443.1 1024.0,500.3 1024.2,582.7 1024.5,497.7 1024.8,517.2 1025.0,542.3 1025.3,496.0 1025.6,508.8 1025.8,535.3 1026.1,511.8 1026.4,488.2 1026.7,518.2 1026.9,511.8 1027.2,493.2 1027.5,499.6 1027.7,526.6 1028.0,526.3 1028.3,498.5 1028.5,493.3 1028.8,517.7 1029.1,530.1 1029.4,488.7 1029.6,473.0 1029.9,500.6 1030.2,516.2 1030.4,500.4 1030.7,493.6 1031.0,492.0 1031.2,527.1 1031.5,508.7 1031.8,509.4 1032.1,538.5 1032.3,504.1 1032.6,504.8 1032.9,508.1 1033.1,501.3 1033.4,521.7 1033.7,510.1 1033.9,502.1 1034.2,496.0 1034.5,477.7 1034.8,545.0 1035.0,557.3 1035.3,505.9 1035.6,463.9 1035.8,429.0 1036.1,499.4 1036.4,569.6 1036.6,479.2 1036.9,560.0 1037.2,572.1 1037.5,430.2 1037.7,467.8 1038.0,519.1 1038.3,475.4 1038.5,462.0 1038.8,487.7 1039.1,479.3 1039.3,533.9 1039.6,543.8 1039.9,484.7 1040.2,484.0 1040.4,509.3 1040.7,508.8 1041.0,513.1 1041.2,515.1 1041.5,495.4 1041.8,498.8 1042.0,508.9 1042.3,506.3 1042.6,499.3 1042.9,498.4 1043.1,505.3 1043.4,524.4 1043.7,502.3 1043.9,483.5 1044.2,511.4 1044.5,518.0 1044.7,495.5 1045.0,496.1 1045.3,511.4 1045.6,529.4 1045.8,513.8 1046.1,526.0 1046.4,520.9 1046.6,502.1 1046.9,510.3 1047.2,490.9 1047.5,461.3 1047.7,476.9 1048.0,494.6 1048.3,508.8 1048.5,519.6 1048.8,515.2 1049.1,518.8 1049.3,527.9 1049.6,522.2 1049.9,510.4 1050.2,527.5 1050.4,537.8 1050.7,526.7 1051.0,494.9 1051.2,491.7 1051.5,474.5 1051.8,467.8 1052.0,489.5 1052.3,499.5 1052.6,523.6 1052.9,468.5 1053.1,469.6 1053.4,532.1 1053.7,527.0 1053.9,505.6 1054.2,544.9 1054.5,531.1 1054.7,483.5 1055.0,508.6 1055.3,510.2 1055.6,492.8 1055.8,512.7 1056.1,505.8 1056.4,510.0 1056.6,511.5 1056.9,505.9 1057.2,507.5 1057.4,496.2 1057.7,500.8 1058.0,497.0 1058.3,508.8 1058.5,505.1 1058.8,519.6 1059.1,535.4 1059.3,504.2 1059.6,505.8 1059.9,516.0 1060.1,499.6 1060.4,508.2 1060.7,506.4 1061.0,493.2 1061.2,499.3 1061.5,521.9 1061.8,477.8 1062.0,465.8 1062.3,523.1 1062.6,540.1 1062.8,558.5 1063.1,530.2 1063.4,500.6 1063.7,508.6 1063.9,522.2 1064.2,505.9 1064.5,483.4 1064.7,501.6 1065.0,509.3 1065.3,481.0 1065.5,494.4 1065.8,507.8 1066.1,523.2 1066.4,545.8 1066.6,543.8 1066.9,514.0 1067.2,506.2 1067.4,500.0 1067.7,491.7 1068.0,485.9 1068.2,491.9 1068.5,513.5 1068.8,521.9 1069.1,511.1 1069.3,512.5 1069.6,515.1 1069.9,508.4 1070.1,516.6 1070.4,515.9 1070.7,499.3 1070.9,502.0 1071.2,514.2 1071.5,499.2 1071.8,508.5 1072.0,520.9 1072.3,502.0 1072.6,457.1 1072.8,522.4 1073.1,491.6 1073.4,440.7 1073.6,477.9 1073.9,524.0 1074.2,452.7 1074.5,487.5 1074.7,545.3 1075.0,518.7 1075.3,501.5 1075.5,528.4 1075.8,529.0 1076.1,464.8 1076.3,547.1 1076.6,530.6 1076.9,493.1 1077.2,469.9 1077.4,490.6 1077.7,514.6 1078.0,495.9 1078.2,486.5 1078.5,478.9 1078.8,531.6 1079.0,513.6 1079.3,511.3 1079.6,536.2 1079.9,515.1 1080.1,494.6 1080.4,514.9 1080.7,517.0 1080.9,499.7 1081.2,488.5 1081.5,492.1 1081.8,512.7 1082.0,503.5 1082.3,491.7 1082.6,512.5 1082.8,529.2 1083.1,488.2 1083.4,489.6 1083.6,517.6 1083.9,531.8 1084.2,526.6 1084.5,525.3 1084.7,512.3 1085.0,496.6 1085.3,512.4 1085.5,515.2 1085.8,493.0 1086.1,504.3 1086.3,509.4 1086.6,502.3 1086.9,457.5 1087.2,478.6 1087.4,525.9 1087.7,513.4 1088.0,508.7 1088.2,528.0 1088.5,536.2 1088.8,522.2 1089.0,488.7 1089.3,510.3 1089.6,530.9 1089.9,541.1 1090.1,526.3 1090.4,501.6 1090.7,488.6 1090.9,486.8 1091.2,510.4 1091.5,484.3 1091.7,484.7 1092.0,508.9 1092.3,546.7 1092.6,527.1 1092.8,497.8 1093.1,494.2 1093.4,503.6 1093.6,501.0 1093.9,506.4 1094.2,515.1 1094.4,513.8 1094.7,500.7 1095.0,505.0 1095.3,516.0 1095.5,515.8 1095.8,500.2 1096.1,510.4 1096.3,520.4 1096.6,476.0 1096.9,492.1 1097.1,506.5 1097.4,469.6 1097.7,478.9 1098.0,502.5 1098.2,503.0 1098.5,514.5 1098.8,541.0 1099.0,538.8 1099.3,507.3 1099.6,522.4 1099.8,509.6 1100.1,511.2 1100.4,517.3 1100.7,505.5 1100.9,499.7 1101.2,486.6 1101.5,462.7 1101.7,484.8 1102.0,494.3 1102.3,513.9 1102.5,494.1 1102.8,499.6 1103.1,534.8 1103.4,516.6 1103.6,509.4 1103.9,498.1 1104.2,497.8 1104.4,514.8 1104.7,509.1 1105.0,496.2 1105.2,527.4 1105.5,511.6 1105.8,485.8 1106.1,540.2 1106.3,527.8 1106.6,503.4 1106.9,512.3 1107.1,489.6 1107.4,524.3 1107.7,495.4 1107.9,468.3 1108.2,488.2 1108.5,504.7 1108.8,507.3 1109.0,510.9 1109.3,503.3 1109.6,519.1 1109.8,512.4 1110.1,497.8 1110.4,519.7 1110.6,509.4 1110.9,505.1 1111.2,514.7 1111.5,494.3 1111.7,500.4 1112.0,520.1 1112.3,509.0 1112.5,513.0 1112.8,512.1 1113.1,508.1 1113.3,508.0 1113.6,497.8 1113.9,509.2 1114.2,500.3 1114.4,502.7 1114.7,503.2 1115.0,514.7 1115.2,529.9 1115.5,535.5 1115.8,507.2 1116.0,484.8 1116.3,464.7 1116.6,483.2 1116.9,507.5 1117.1,508.5 1117.4,507.6 1117.7,510.9 1117.9,493.5 1118.2,498.0 1118.5,527.4 1118.8,514.6 1119.0,492.2 1119.3,502.5 1119.6,508.6 1119.8,490.9 1120.1,508.3 1120.4,509.5 1120.6,518.3 1120.9,534.2 1121.2,494.4 1121.5,514.5 1121.7,528.2 1122.0,511.0 1122.3,486.6 1122.5,490.0 1122.8,521.4 1123.1,547.1 1123.3,520.4 1123.6,528.8 1123.9,505.1 1124.2,501.4 1124.4,504.5 1124.7,467.4 1125.0,486.8 1125.2,495.3 1125.5,506.5 1125.8,513.7 1126.0,493.4 1126.3,502.1 1126.6,520.2 1126.9,504.7 1127.1,499.6 1127.4,495.1 1127.7,486.9 1127.9,542.4 1128.2,525.7 1128.5,468.8 1128.7,499.2 1129.0,520.6 1129.3,503.6 1129.6,506.0 1129.8,527.9 1130.1,531.2 1130.4,518.5 1130.6,498.7 1130.9,501.7 1131.2,506.2 1131.4,483.1 1131.7,478.9 1132.0,549.8 1132.3,512.6 1132.5,514.9 1132.8,550.8 1133.1,520.5 1133.3,500.7 1133.6,509.3 1133.9,534.0 1134.1,504.7 1134.4,454.3 1134.7,519.7 1135.0,554.3 1135.2,487.9 1135.5,476.9 1135.8,506.0 1136.0,521.7 1136.3,501.6 1136.6,511.5 1136.8,522.9 1137.1,521.2 1137.4,505.4 1137.7,488.0 1137.9,487.3 1138.2,498.4 1138.5,498.2 1138.7,497.2 1139.0,497.6 1139.3,518.7 1139.5,521.6 1139.8,502.3 1140.1,520.7 1140.4,518.3 1140.6,508.3 1140.9,520.6 1141.2,503.7 1141.4,485.4 1141.7,545.2 1142.0,491.6 1142.2,438.4 1142.5,504.3 1142.8,523.5 1143.1,476.0 1143.3,461.9 1143.6,551.4 1143.9,537.0 1144.1,499.8 1144.4,498.0 1144.7,496.1 1144.9,495.9 1145.2,517.2 1145.5,511.9 1145.8,524.4 1146.0,526.4 1146.3,505.0 1146.6,511.8 1146.8,514.4 1147.1,492.7 1147.4,507.8 1147.6,526.3 1147.9,493.3 1148.2,507.4 1148.5,503.8 1148.7,500.6 1149.0,498.2 1149.3,501.4 1149.5,523.1 1149.8,501.4 1150.1,494.3 1150.3,525.8 1150.6,513.4 1150.9,499.0 1151.2,524.3 1151.4,524.3 1151.7,493.1 1152.0,504.7 1152.2,483.8 1152.5,497.2 1152.8,511.4 1153.1,503.4 1153.3,495.7 1153.6,490.4 1153.9,500.8 1154.1,510.5 1154.4,504.6 1154.7,468.8 1154.9,484.0 1155.2,547.3 1155.5,530.6 1155.8,509.7 1156.0,519.9 1156.3,518.6 1156.6,520.6 1156.8,514.4 1157.1,501.0 1157.4,500.2 1157.6,497.2 1157.9,485.7 1158.2,494.4 1158.5,476.6 1158.7,486.4 1159.0,503.8 1159.3,539.3 1159.5,580.8 1159.8,533.7 1160.1,483.7 1160.3,479.6 1160.6,535.2 1160.9,473.5 1161.2,479.3 1161.4,507.5 1161.7,557.4 1162.0,535.6 1162.2,511.2 1162.5,492.4 1162.8,511.9 1163.0,526.5 1163.3,496.9 1163.6,497.0 1163.9,502.0 1164.1,497.4 1164.4,485.5 1164.7,504.9 1164.9,546.5 1165.2,553.7 1165.5,483.6 1165.7,490.1 1166.0,519.9 1166.3,522.0 1166.6,502.2 1166.8,492.0 1167.1,527.7 1167.4,520.0 1167.6,466.0 1167.9,483.5 1168.2,537.1 1168.4,543.8 1168.7,522.4 1169.0,494.6 1169.3,496.9 1169.5,518.2 1169.8,506.5 1170.1,515.1 1170.3,524.6 1170.6,479.6 1170.9,467.9 1171.1,463.7 1171.4,516.2 1171.7,528.1 1172.0,485.6 1172.2,517.6 1172.5,548.0 1172.8,543.6 1173.0,508.5 1173.3,507.4 1173.6,512.9 1173.8,493.9 1174.1,489.2 1174.4,499.0 1174.7,503.8 1174.9,507.8 1175.2,498.4 1175.5,500.5 1175.7,513.5 1176.0,508.2 1176.3,518.9 1176.5,538.2 1176.8,520.4 1177.1,503.9 1177.4,491.9 1177.6,480.5 1177.9,502.5 1178.2,497.9 1178.4,471.1 1178.7,498.8 1179.0,516.8 1179.2,510.7 1179.5,510.4 1179.8,518.8 1180.1,502.1 1180.3,502.4 1180.6,510.7 1180.9,485.2 1181.1,507.2 1181.4,511.6 1181.7,508.8 1181.9,511.9 1182.2,505.6 1182.5,504.6 1182.8,490.5 1183.0,499.2 1183.3,503.9 1183.6,515.0 1183.8,525.6 1184.1,526.8 1184.4,522.3 1184.6,506.3 1184.9,506.5 1185.2,474.0 1185.5,480.0 1185.7,490.7 1186.0,501.8 1186.3,506.4 1186.5,487.5 1186.8,494.6 1187.1,524.2 1187.3,505.1 1187.6,482.9 1187.9,511.4 1188.2,522.6 1188.4,531.9 1188.7,540.8 1189.0,495.1 1189.2,509.2 1189.5,520.7 1189.8,450.1 1190.1,474.2 1190.3,516.8 1190.6,502.9 1190.9,500.9 1191.1,508.7 1191.4,512.9 1191.7,513.2 1191.9,496.8 1192.2,505.7 1192.5,510.1 1192.8,494.9 1193.0,495.4 1193.3,505.4 1193.6,502.3 1193.8,475.2 1194.1,493.5 1194.4,519.3 1194.6,520.6 1194.9,520.4 1195.2,523.5 1195.5,504.7 1195.7,506.0 1196.0,525.0 1196.3,507.9 1196.5,491.5 1196.8,507.7 1197.1,515.0 1197.3,486.1 1197.6,506.7 1197.9,522.2 1198.2,514.9 1198.4,504.3 1198.7,489.9 1199.0,487.5 1199.2,503.3 1199.5,516.5 1199.8,515.6 1200.0,509.9 1200.3,511.1 1200.6,526.6 1200.9,507.5 1201.1,498.1 1201.4,508.1 1201.7,502.8 1201.9,515.4 1202.2,525.5 1202.5,513.5 1202.7,484.2 1203.0,491.6 1203.3,507.4 1203.6,495.8 1203.8,501.4 1204.1,482.7 1204.4,499.1 1204.6,512.5 1204.9,500.3 1205.2,512.8 1205.4,522.8 1205.7,528.8 1206.0,509.3 1206.3,506.2 1206.5,515.7 1206.8,506.5 1207.1,490.1 1207.3,507.0 1207.6,523.2 1207.9,479.7 1208.1,487.0 1208.4,506.6 1208.7,535.5 1209.0,516.2 1209.2,504.7 1209.5,501.5 1209.8,494.0 1210.0,514.1 1210.3,505.2 1210.6,501.5 1210.8,498.1 1211.1,502.3 1211.4,498.2 1211.7,516.0 1211.9,540.4 1212.2,523.8 1212.5,522.6 1212.7,528.4 1213.0,485.8 1213.3,485.3 1213.5,502.0 1213.8,510.4 1214.1,506.4 1214.4,504.1 1214.6,482.7 1214.9,498.3 1215.2,501.1 1215.4,517.4 1215.7,552.0 1216.0,543.5 1216.2,531.1 1216.5,491.6 1216.8,494.1 1217.1,547.8 1217.3,501.8 1217.6,445.2 1217.9,521.7 1218.1,536.8 1218.4,502.1 1218.7,514.5 1218.9,521.3 1219.2,488.7 1219.5,482.4 1219.8,521.3 1220.0,514.8 1220.3,498.4 1220.6,507.8 1220.8,515.8 1221.1,512.4 1221.4,488.6 1221.6,514.7 1221.9,514.5 1222.2,497.6 1222.5,501.9 1222.7,501.1 1223.0,494.3 1223.3,502.1 1223.5,501.2 1223.8,505.6 1224.1,518.3 1224.3,532.5 1224.6,526.9 1224.9,505.7 1225.2,531.5 1225.4,548.7 1225.7,492.7 1226.0,502.1 1226.2,533.1 1226.5,474.2 1226.8,492.2 1227.1,508.0 1227.3,490.0 1227.6,513.3 1227.9,515.2 1228.1,470.8 1228.4,522.9 1228.7,515.4 1228.9,494.9 1229.2,520.7 1229.5,519.5 1229.8,488.1 1230.0,477.3 1230.3,517.9 1230.6,521.3 1230.8,493.4 1231.1,512.6 1231.4,524.6 1231.6,505.1 1231.9,498.9 1232.2,500.6 1232.5,487.2 1232.7,496.8 1233.0,499.4 1233.3,507.8 1233.5,523.5 1233.8,513.4 1234.1,509.0 1234.3,513.1 1234.6,516.0 1234.9,518.6 1235.2,488.4 1235.4,477.0 1235.7,507.1 1236.0,507.7 1236.2,503.1 1236.5,496.4 1236.8,502.2 1237.0,514.0 1237.3,516.1 1237.6,526.2 1237.9,532.5 1238.1,508.3 1238.4,514.9 1238.7,508.7 1238.9,496.4 1239.2,497.4 1239.5,499.9 1239.7,496.1 1240.0,510.9 1240.3,500.0 1240.6,500.6 1240.8,509.9 1241.1,495.4 1241.4,502.2 1241.6,525.8 1241.9,518.9 1242.2,512.9 1242.4,493.7 1242.7,524.5 1243.0,543.9 1243.3,520.9 1243.5,474.7 1243.8,523.2 1244.1,508.0 1244.3,511.1 1244.6,579.8 1244.9,515.3 1245.1,473.4 1245.4,504.1 1245.7,480.5 1246.0,504.2 1246.2,507.3 1246.5,512.7 1246.8,500.0 1247.0,484.0 1247.3,499.0 1247.6,506.6 1247.8,516.5 1248.1,514.3 1248.4,489.0 1248.7,521.6 1248.9,531.4 1249.2,523.2 1249.5,491.7 1249.7,465.4 1250.0,544.1 1250.3,505.6 1250.5,481.3 1250.8,519.4 1251.1,517.8 1251.4,498.4 1251.6,475.0 1251.9,520.4 1252.2,548.7 1252.4,465.4 1252.7,449.0 1253.0,530.9 1253.2,535.6 1253.5,499.8 1253.8,502.7 1254.1,501.5 1254.3,503.7 1254.6,513.9 1254.9,510.8 1255.1,490.2 1255.4,492.1 1255.7,529.2 1255.9,516.2 1256.2,475.8 1256.5,510.0 1256.8,537.0 1257.0,507.0 1257.3,502.7 1257.6,508.0 1257.8,510.5 1258.1,511.6 1258.4,510.6 1258.6,504.3 1258.9,518.1 1259.2,523.0 1259.5,509.6 1259.7,497.7 1260.0,505.5 1260.3,511.8 1260.5,502.6 1260.8,500.3 1261.1,494.0 1261.4,498.3 1261.6,474.1 1261.9,460.1 1262.2,515.4 1262.4,533.7 1262.7,485.9 1263.0,487.6 1263.2,539.1 1263.5,581.1 1263.8,579.4 1264.1,503.8 1264.3,468.9 1264.6,494.7 1264.9,512.7 1265.1,494.4 1265.4,500.8 1265.7,500.8 1265.9,497.1 1266.2,515.9 1266.5,527.4 1266.8,546.5 1267.0,548.8 1267.3,550.0 1267.6,504.5 1267.8,492.4 1268.1,482.4 1268.4,496.0 1268.6,508.6 1268.9,502.9 1269.2,508.0 1269.5,502.2 1269.7,505.5 1270.0,516.4 1270.3,506.4 1270.5,503.2 1270.8,509.3 1271.1,494.5 1271.3,483.9 1271.6,499.2 1271.9,522.0 1272.2,533.9 1272.4,506.2 1272.7,511.4 1273.0,528.5 1273.2,505.1 1273.5,490.7 1273.8,516.2 1274.0,512.5 1274.3,507.3 1274.6,497.5 1274.9,518.2 1275.1,508.9 1275.4,472.0 1275.7,498.1 1275.9,502.1 1276.2,507.8 1276.5,520.0 1276.7,503.3 1277.0,501.8 1277.3,519.5 1277.6,508.6 1277.8,483.9 1278.1,495.1 1278.4,517.5 1278.6,519.9 1278.9,522.1 1279.2,494.8 1279.4,486.0 1279.7,494.6 1280.0,521.6 1280.3,524.5 1280.5,493.5 1280.8,496.1 1281.1,516.1 1281.3,505.6 1281.6,496.3 1281.9,501.3 1282.1,517.8 1282.4,534.9 1282.7,508.2 1283.0,499.9 1283.2,506.3 1283.5,510.9 1283.8,509.2 1284.0,490.2 1284.3,490.8 1284.6,504.3 1284.8,531.8 1285.1,519.4 1285.4,500.9 1285.7,522.7 1285.9,520.9 1286.2,506.8 1286.5,497.0 1286.7,502.2 1287.0,492.4 1287.3,499.8 1287.5,517.7 1287.8,537.1 1288.1,516.9 1288.4,493.6 1288.6,504.3 1288.9,503.0 1289.2,496.5 1289.4,506.0 1289.7,509.2 1290.0,498.2 1290.2,486.4 1290.5,493.6 1290.8,490.5 1291.1,508.6 1291.3,525.2 1291.6,526.3 1291.9,514.5 1292.1,490.9 1292.4,568.8 1292.7,522.6 1292.9,460.0 1293.2,510.3 1293.5,546.6 1293.8,503.0 1294.0,490.0 1294.3,506.4 1294.6,498.9 1294.8,515.6 1295.1,512.4 1295.4,444.6 1295.6,494.5 1295.9,532.9 1296.2,513.4 1296.5,501.8 1296.7,498.5 1297.0,498.2"/>
<polyline fill="none" stroke="#dcdc00" stroke-width="2.4" stroke-linejoin="round" points="325.0,500.8 326.4,498.4 327.7,498.7 329.1,499.1 330.4,502.7 331.8,503.1 333.1,506.1 334.5,505.8 335.8,503.0 337.2,504.4 338.5,502.3 339.9,501.1 341.2,502.0 342.6,501.4 343.9,499.7 345.3,500.2 346.6,499.1 348.0,498.4 349.3,499.4 350.7,502.9 352.0,501.6 353.4,500.5 354.7,500.7 356.1,499.0 357.4,501.2 358.8,502.5 360.1,502.9 361.5,506.2 362.8,505.2 364.2,504.8 365.5,503.9 366.9,502.4 368.2,502.4 369.6,500.6 370.9,502.4 372.3,499.6 373.6,499.7 375.0,499.6 376.3,501.4 377.7,501.7 379.0,503.3 380.4,504.2 381.7,504.4 383.1,506.4 384.4,507.0 385.8,502.6 387.1,502.9 388.5,504.7 389.8,507.7 391.2,505.3 392.5,506.5 393.9,503.9 395.2,502.6 396.6,505.0 397.9,503.6 399.3,504.8 400.6,500.7 402.0,501.6 403.3,500.7 404.7,505.4 406.0,508.5 407.4,507.7 408.7,506.5 410.1,505.8 411.4,506.3 412.8,507.3 414.1,504.7 415.5,504.5 416.8,501.5 418.2,504.6 419.5,507.9 420.9,509.4 422.2,506.4 423.6,505.0 424.9,503.5 426.3,502.3 427.6,500.8 429.0,501.8 430.3,505.4 431.7,506.0 433.0,507.3 434.4,504.5 435.7,505.5 437.1,504.7 438.4,504.2 439.8,503.2 441.1,500.9 442.5,499.9 443.8,500.4 445.2,497.8 446.5,499.0 447.9,502.7 449.2,505.7 450.6,506.4 451.9,505.1 453.3,506.7 454.6,504.4 456.0,503.7 457.3,503.6 458.7,504.1 460.0,504.8 461.4,506.7 462.7,505.6 464.1,508.2 465.4,503.7 466.8,501.8 468.1,502.3 469.5,506.0 470.8,506.3 472.2,506.8 473.5,506.0 474.9,507.5 476.2,507.7 477.6,508.1 478.9,508.2 480.3,507.1 481.6,506.6 483.0,503.8 484.3,502.2 485.7,502.7 487.0,503.6 488.4,502.7 489.7,503.2 491.1,505.6 492.4,508.0 493.8,507.7 495.1,504.5 496.5,506.0 497.8,507.7 499.2,507.5 500.5,506.3 501.9,504.7 503.2,504.7 504.6,504.8 506.0,504.8 507.3,506.7 508.7,507.5 510.0,506.9 511.4,505.4 512.7,504.8 514.1,505.3 515.4,510.3 516.8,510.0 518.1,508.5 519.5,506.9 520.8,504.1 522.2,499.0 523.5,497.8 524.9,502.1 526.2,507.1 527.6,508.5 528.9,506.6 530.3,504.2 531.6,505.3 533.0,508.1 534.3,507.3 535.7,509.5 537.0,507.1 538.4,506.1 539.7,508.4 541.1,508.7 542.4,510.5 543.8,510.7 545.1,508.9 546.5,508.7 547.8,506.3 549.2,506.9 550.5,508.4 551.9,505.8 553.2,506.0 554.6,504.7 555.9,508.2 557.3,503.9 558.6,507.1 560.0,507.6 561.3,513.5 562.7,509.8 564.0,510.5 565.4,507.9 566.7,508.5 568.1,511.0 569.4,511.6 570.8,512.1 572.1,508.3 573.5,506.0 574.8,504.4 576.2,504.2 577.5,502.6 578.9,503.0 580.2,504.9 581.6,506.4 582.9,505.7 584.3,505.6 585.6,508.4 587.0,512.1 588.3,513.2 589.7,513.7 591.0,511.4 592.4,508.3 593.7,505.4 595.1,506.9 596.4,510.1 597.8,509.0 599.1,507.1 600.5,507.1 601.8,505.6 603.2,504.7 604.5,503.9 605.9,505.2 607.2,506.3 608.6,507.1 609.9,508.8 611.3,508.5 612.6,508.8 614.0,508.2 615.3,506.5 616.7,508.4 618.0,507.3 619.4,510.6 620.7,508.6 622.1,507.2 623.4,506.8 624.8,504.8 626.1,508.5 627.5,511.2 628.8,510.7 630.2,508.0 631.5,507.0 632.9,506.6 634.2,507.1 635.6,504.1 636.9,502.4 638.3,501.1 639.6,504.1 641.0,506.2 642.3,505.0 643.7,506.4 645.0,506.8 646.4,508.4 647.7,505.9 649.1,502.3 650.4,506.1 651.8,507.9 653.1,511.3 654.5,507.5 655.8,505.2 657.2,501.8 658.5,504.2 659.9,504.7 661.2,505.9 662.6,507.0 663.9,506.1 665.3,504.4 666.6,505.7 668.0,507.4 669.3,509.1 670.7,507.6 672.0,505.4 673.4,505.0 674.7,507.5 676.1,508.2 677.4,505.2 678.8,506.1 680.1,508.6 681.5,506.1 682.8,506.1 684.2,506.2 685.6,508.3 686.9,506.6 688.3,504.5 689.6,505.6 691.0,509.9 692.3,509.4 693.7,512.4 695.0,514.1 696.4,512.7 697.7,508.8 699.1,505.5 700.4,507.1 701.8,504.2 703.1,506.3 704.5,506.0 705.8,503.4 707.2,501.9 708.5,504.0 709.9,506.0 711.2,506.0 712.6,507.3 713.9,507.1 715.3,509.1 716.6,510.9 718.0,510.9 719.3,508.5 720.7,507.4 722.0,505.1 723.4,503.4 724.7,505.4 726.1,508.1 727.4,509.4 728.8,505.6 730.1,505.8 731.5,505.3 732.8,504.2 734.2,507.4 735.5,508.9 736.9,509.1 738.2,509.3 739.6,506.7 740.9,509.4 742.3,505.9 743.6,506.8 745.0,508.3 746.3,506.9 747.7,504.8 749.0,505.3 750.4,507.7 751.7,507.8 753.1,505.0 754.4,503.1 755.8,503.0 757.1,507.9 758.5,508.3 759.8,506.3 761.2,507.7 762.5,510.4 763.9,510.3 765.2,506.9 766.6,505.4 767.9,506.9 769.3,509.0 770.6,506.3 772.0,506.7 773.3,507.1 774.7,509.8 776.0,509.6 777.4,505.4 778.7,505.3 780.1,504.4 781.4,502.6 782.8,501.6 784.1,506.0 785.5,510.3 786.8,513.4 788.2,510.9 789.5,509.1 790.9,505.4 792.2,503.1 793.6,500.4 794.9,506.0 796.3,509.7 797.6,506.2 799.0,504.2 800.3,503.6 801.7,504.7 803.0,503.6 804.4,504.7 805.7,504.5 807.1,508.0 808.4,511.3 809.8,511.3 811.1,511.4 812.5,506.6 813.8,505.2 815.2,503.5 816.5,504.8 817.9,506.5 819.2,503.6 820.6,503.7 821.9,505.6 823.3,507.8 824.6,506.3 826.0,504.3 827.3,505.1 828.7,503.3 830.0,505.0 831.4,501.8 832.7,506.0 834.1,505.7 835.4,504.1 836.8,504.1 838.1,506.7 839.5,507.9 840.8,505.5 842.2,506.4 843.5,503.7 844.9,509.7 846.2,508.1 847.6,507.7 848.9,504.9 850.3,505.3 851.6,504.5 853.0,504.9 854.3,506.4 855.7,504.1 857.0,500.5 858.4,501.6 859.7,505.0 861.1,505.5 862.4,502.1 863.8,502.1 865.2,504.3 866.5,505.8 867.9,507.4 869.2,507.0 870.6,509.3 871.9,505.4 873.3,507.1 874.6,504.4 876.0,505.1 877.3,507.5 878.7,506.6 880.0,507.0 881.4,504.8 882.7,508.8 884.1,504.1 885.4,506.6 886.8,503.3 888.1,508.6 889.5,508.0 890.8,510.3 892.2,513.0 893.5,512.6 894.9,510.3 896.2,506.2 897.6,507.5 898.9,508.2 900.3,507.7 901.6,508.2 903.0,506.3 904.3,511.1 905.7,508.7 907.0,505.1 908.4,503.4 909.7,505.5 911.1,508.1 912.4,507.9 913.8,510.1 915.1,509.6 916.5,510.4 917.8,508.4 919.2,506.9 920.5,506.6 921.9,505.5 923.2,508.0 924.6,507.1 925.9,508.5 927.3,510.1 928.6,510.1 930.0,510.7 931.3,507.1 932.7,507.4 934.0,504.9 935.4,505.7 936.7,503.5 938.1,504.5 939.4,507.4 940.8,507.6 942.1,506.9 943.5,507.0 944.8,506.8 946.2,507.7 947.5,506.7 948.9,506.4 950.2,503.9 951.6,505.3 952.9,505.6 954.3,508.0 955.6,509.8 957.0,510.0 958.3,510.0 959.7,509.2 961.0,509.5 962.4,506.8 963.7,505.9 965.1,505.6 966.4,507.6 967.8,510.0 969.1,509.6 970.5,510.6 971.8,508.5 973.2,509.0 974.5,507.6 975.9,507.5 977.2,506.7 978.6,510.3 979.9,510.5 981.3,509.9 982.6,507.4 984.0,506.0 985.3,503.9 986.7,504.7 988.0,504.0 989.4,508.0 990.7,506.9 992.1,503.8 993.4,503.6 994.8,505.5 996.1,509.1 997.5,508.0 998.8,508.2 1000.2,507.6 1001.5,505.5 1002.9,505.0 1004.2,505.6 1005.6,508.2 1006.9,506.9 1008.3,507.9 1009.6,509.4 1011.0,512.5 1012.3,508.4 1013.7,505.9 1015.0,502.7 1016.4,502.3 1017.7,500.9 1019.1,505.9 1020.4,508.6 1021.8,509.5 1023.1,509.1 1024.5,505.2 1025.8,509.2 1027.2,507.5 1028.5,508.1 1029.9,508.5 1031.2,508.6 1032.6,507.8 1033.9,508.2 1035.3,508.8 1036.6,511.0 1038.0,512.8 1039.3,510.6 1040.7,507.0 1042.0,503.7 1043.4,504.3 1044.7,506.6 1046.1,506.5 1047.5,504.4 1048.8,504.4 1050.2,504.3 1051.5,503.8 1052.9,504.5 1054.2,506.0 1055.6,508.3 1056.9,507.8 1058.3,507.0 1059.6,507.3 1061.0,505.4 1062.3,507.4 1063.7,507.5 1065.0,506.3 1066.4,504.5 1067.7,503.7 1069.1,502.8 1070.4,506.8 1071.8,511.6 1073.1,511.1 1074.5,506.1 1075.8,506.7 1077.2,506.8 1078.5,508.4 1079.9,505.8 1081.2,506.2 1082.6,506.9 1083.9,508.5 1085.3,504.5 1086.6,503.4 1088.0,500.8 1089.3,503.8 1090.7,505.0 1092.0,508.0 1093.4,507.5 1094.7,505.4 1096.1,507.0 1097.4,508.0 1098.8,512.0 1100.1,507.9 1101.5,505.9 1102.8,503.6 1104.2,505.1 1105.5,505.6 1106.9,504.4 1108.2,503.4 1109.6,503.8 1110.9,506.9 1112.3,506.3 1113.6,505.3 1115.0,507.4 1116.3,508.8 1117.7,506.4 1119.0,503.4 1120.4,503.8 1121.7,504.9 1123.1,505.6 1124.4,506.8 1125.8,507.7 1127.1,509.1 1128.5,508.6 1129.8,509.1 1131.2,509.4 1132.5,508.4 1133.9,508.4 1135.2,506.5 1136.6,506.1 1137.9,505.0 1139.3,507.3 1140.6,508.9 1142.0,510.8 1143.3,507.9 1144.7,508.0 1146.0,510.4 1147.4,512.2 1148.7,510.9 1150.1,508.1 1151.4,506.9 1152.8,506.8 1154.1,504.6 1155.5,504.3 1156.8,506.9 1158.2,505.9 1159.5,505.3 1160.9,503.0 1162.2,504.0 1163.6,503.2 1164.9,505.8 1166.3,504.9 1167.6,505.4 1169.0,504.2 1170.3,505.8 1171.7,508.4 1173.0,506.8 1174.4,506.8 1175.7,507.2 1177.1,509.8 1178.4,513.7 1179.8,511.9 1181.1,509.9 1182.5,506.1 1183.8,506.5 1185.2,505.0 1186.5,508.0 1187.9,503.3 1189.2,503.7 1190.6,503.6 1191.9,505.4 1193.3,508.8 1194.6,504.7 1196.0,505.5 1197.3,503.7 1198.7,506.7 1200.0,508.2 1201.4,509.1 1202.7,508.0 1204.1,506.6 1205.4,507.4 1206.8,508.1 1208.1,507.4 1209.5,505.9 1210.8,504.2 1212.2,502.4 1213.5,504.6 1214.9,506.1 1216.2,509.1 1217.6,505.6 1218.9,506.0 1220.3,506.0 1221.6,507.9 1223.0,506.7 1224.3,507.0 1225.7,509.2 1227.1,510.1 1228.4,510.0 1229.8,505.9 1231.1,506.2 1232.5,503.2 1233.8,505.2 1235.2,507.3 1236.5,507.6 1237.9,505.0 1239.2,505.6 1240.6,507.7 1241.9,505.5 1243.3,509.2 1244.6,507.2 1246.0,509.8 1247.3,508.8 1248.7,508.2 1250.0,506.1 1251.4,505.2 1252.7,509.4 1254.1,511.7 1255.4,513.6 1256.8,508.9 1258.1,504.5 1259.5,501.9 1260.8,504.2 1262.2,505.4 1263.5,503.6 1264.9,503.3 1266.2,504.8 1267.6,506.6 1268.9,509.9 1270.3,510.3 1271.6,509.7 1273.0,510.1 1274.3,509.5 1275.7,509.4 1277.0,507.7 1278.4,506.3 1279.7,502.8 1281.1,501.7 1282.4,502.9 1283.8,504.8 1285.1,506.6 1286.5,507.4 1287.8,505.7 1289.2,504.6 1290.5,503.2 1291.9,505.9 1293.2,504.5 1294.6,505.4 1295.9,505.8"/>
<polyline points="330.5,704.4 1264,704.6 1304.5,705.3" fill="none" stroke="#f00" stroke-width="4.6" stroke-linecap="round" stroke-linejoin="round"/>
<polyline fill="none" stroke="#bebebe" stroke-width="2" stroke-linejoin="round" points="325.0,728.3 326.6,739.4 328.2,763.8 329.9,774.5 331.5,770.9 333.1,754.9 334.7,748.3 336.4,763.1 338.0,755.5 339.6,737.8 341.2,739.8 342.8,767.1 344.5,744.9 346.1,706.4 347.7,702.1 349.3,713.2 351.0,783.3 352.6,804.3 354.2,806.1 355.8,799.5 357.5,731.6 359.1,718.7 360.7,729.7 362.3,740.3 363.9,752.7 365.6,774.1 367.2,778.4 368.8,748.6 370.4,731.4 372.1,738.0 373.7,725.5 375.3,739.9 376.9,763.6 378.5,775.9 380.2,782.6 381.8,768.0 383.4,749.6 385.0,722.0 386.7,724.5 388.3,759.4 389.9,764.1 391.5,772.6 393.2,747.3 394.8,716.6 396.4,740.4 398.0,776.7 399.6,783.9 401.3,787.7 402.9,752.5 404.5,714.9 406.1,719.7 407.8,731.1 409.4,764.5 411.0,783.6 412.6,770.1 414.2,758.7 415.9,764.8 417.5,745.2 419.1,729.0 420.7,755.5 422.4,764.3 424.0,755.7 425.6,745.3 427.2,742.4 428.9,758.7 430.5,770.6 432.1,758.1 433.7,747.9 435.3,745.8 437.0,726.9 438.6,730.0 440.2,752.0 441.8,766.9 443.5,771.1 445.1,778.2 446.7,779.7 448.3,742.0 449.9,718.4 451.6,732.2 453.2,758.7 454.8,791.3 456.4,775.5 458.1,721.8 459.7,712.2 461.3,737.0 462.9,754.7 464.6,764.3 466.2,777.1 467.8,786.8 469.4,785.0 471.0,756.2 472.7,731.3 474.3,710.5 475.9,724.9 477.5,763.9 479.2,784.3 480.8,785.6 482.4,760.4 484.0,729.6 485.6,715.1 487.3,734.1 488.9,776.8 490.5,765.7 492.1,763.8 493.8,769.0 495.4,749.6 497.0,750.0 498.6,732.1 500.3,728.3 501.9,739.7 503.5,734.0 505.1,747.2 506.7,776.1 508.4,785.4 510.0,779.3 511.6,752.5 513.2,739.7 514.9,731.5 516.5,744.4 518.1,766.5 519.7,759.2 521.3,755.1 523.0,752.7 524.6,743.3 526.2,740.0 527.8,736.0 529.5,743.6 531.1,785.9 532.7,790.6 534.3,757.5 536.0,729.9 537.6,722.2 539.2,737.7 540.8,782.5 542.4,793.4 544.1,764.9 545.7,736.3 547.3,712.8 548.9,741.4 550.6,761.9 552.2,746.3 553.8,746.4 555.4,771.1 557.0,757.8 558.7,750.9 560.3,760.4 561.9,751.5 563.5,740.1 565.2,741.5 566.8,755.4 568.4,765.2 570.0,760.8 571.7,762.3 573.3,761.0 574.9,756.8 576.5,741.7 578.1,733.2 579.8,737.3 581.4,756.0 583.0,767.5 584.6,745.0 586.3,739.3 587.9,744.6 589.5,757.3 591.1,781.6 592.7,764.3 594.4,761.0 596.0,774.4 597.6,744.3 599.2,742.9 600.9,749.1 602.5,750.2 604.1,749.8 605.7,746.5 607.4,745.1 609.0,734.0 610.6,747.7 612.2,777.8 613.8,772.3 615.5,764.9 617.1,753.2 618.7,727.5 620.3,730.1 622.0,760.3 623.6,766.0 625.2,748.3 626.8,753.3 628.4,763.6 630.1,775.2 631.7,760.9 633.3,745.7 634.9,761.0 636.6,761.9 638.2,739.5 639.8,728.4 641.4,723.1 643.1,723.0 644.7,758.9 646.3,786.7 647.9,791.5 649.5,764.4 651.2,712.8 652.8,708.1 654.4,744.0 656.0,771.3 657.7,792.6 659.3,775.5 660.9,719.5 662.5,725.5 664.1,747.4 665.8,773.0 667.4,766.3 669.0,751.2 670.6,747.0 672.3,752.1 673.9,763.5 675.5,755.8 677.1,733.9 678.7,738.8 680.4,743.5 682.0,761.1 683.6,768.1 685.2,747.5 686.9,746.9 688.5,756.2 690.1,758.0 691.7,788.5 693.4,779.5 695.0,729.8 696.6,724.1 698.2,741.3 699.8,749.8 701.5,753.0 703.1,763.7 704.7,772.0 706.3,755.8 708.0,746.0 709.6,746.7 711.2,743.7 712.8,755.7 714.4,764.1 716.1,745.4 717.7,733.0 719.3,748.4 720.9,771.8 722.6,782.9 724.2,773.0 725.8,756.1 727.4,735.5 729.1,728.9 730.7,748.7 732.3,772.3 733.9,777.4 735.5,766.0 737.2,776.7 738.8,776.9 740.4,757.0 742.0,741.2 743.7,719.5 745.3,724.7 746.9,763.8 748.5,773.6 750.1,778.4 751.8,784.1 753.4,771.0 755.0,727.1 756.6,711.0 758.3,717.2 759.9,735.8 761.5,747.9 763.1,768.0 764.8,781.6 766.4,791.0 768.0,788.2 769.6,738.6 771.2,710.8 772.9,716.1 774.5,766.5 776.1,780.1 777.7,771.2 779.4,766.6 781.0,752.9 782.6,732.3 784.2,730.0 785.8,741.5 787.5,759.6 789.1,787.3 790.7,768.3 792.3,731.7 794.0,729.2 795.6,736.9 797.2,760.7 798.8,784.3 800.5,766.9 802.1,733.3 803.7,711.7 805.3,719.3 806.9,759.9 808.6,774.2 810.2,778.7 811.8,772.6 813.4,752.3 815.1,742.3 816.7,734.0 818.3,740.9 819.9,750.5 821.5,750.2 823.2,753.1 824.8,767.4 826.4,770.3 828.0,752.0 829.7,738.8 831.3,739.4 832.9,756.2 834.5,773.7 836.2,766.7 837.8,753.2 839.4,729.9 841.0,725.6 842.6,742.5 844.3,764.4 845.9,789.5 847.5,775.8 849.1,740.2 850.8,726.1 852.4,731.9 854.0,748.8 855.6,778.4 857.2,785.4 858.9,760.8 860.5,744.6 862.1,724.9 863.7,712.2 865.4,725.2 867.0,742.7 868.6,776.1 870.2,785.4 871.9,760.7 873.5,747.5 875.1,744.2 876.7,762.7 878.3,754.1 880.0,754.0 881.6,758.6 883.2,750.0 884.8,757.0 886.5,761.5 888.1,746.5 889.7,747.2 891.3,744.5 892.9,745.8 894.6,757.0 896.2,756.5 897.8,750.0 899.4,734.6 901.1,736.5 902.7,761.6 904.3,785.5 905.9,794.8 907.6,773.7 909.2,742.4 910.8,745.4 912.4,751.9 914.0,748.6 915.7,735.1 917.3,731.7 918.9,752.9 920.5,746.3 922.2,754.5 923.8,780.9 925.4,760.9 927.0,753.3 928.6,740.6 930.3,743.6 931.9,764.5 933.5,768.3 935.1,756.0 936.8,746.5 938.4,745.5 940.0,747.7 941.6,760.4 943.3,762.2 944.9,753.4 946.5,753.3 948.1,753.4 949.7,747.5 951.4,729.9 953.0,736.3 954.6,759.2 956.2,779.1 957.9,767.4 959.5,744.3 961.1,757.2 962.7,761.9 964.3,732.4 966.0,737.2 967.6,760.1 969.2,773.8 970.8,789.5 972.5,770.5 974.1,722.1 975.7,719.4 977.3,736.3 978.9,741.7 980.6,758.4 982.2,772.0 983.8,781.0 985.4,763.4 987.1,740.0 988.7,744.0 990.3,750.5 991.9,763.7 993.6,752.4 995.2,740.3 996.8,734.3 998.4,711.8 1000.0,750.5 1001.7,780.2 1003.3,789.5 1004.9,788.2 1006.5,762.6 1008.2,741.4 1009.8,709.6 1011.4,716.1 1013.0,768.9 1014.6,782.9 1016.3,780.9 1017.9,764.5 1019.5,738.0 1021.1,727.3 1022.8,730.7 1024.4,730.7 1026.0,730.8 1027.6,779.5 1029.3,786.4 1030.9,758.3 1032.5,739.2 1034.1,737.0 1035.7,751.2 1037.4,763.4 1039.0,765.8 1040.6,773.3 1042.2,776.5 1043.9,762.3 1045.5,736.1 1047.1,729.1 1048.7,733.5 1050.3,754.7 1052.0,767.1 1053.6,763.5 1055.2,754.0 1056.8,741.7 1058.5,751.6 1060.1,776.7 1061.7,755.9 1063.3,751.3 1065.0,772.0 1066.6,764.3 1068.2,747.6 1069.8,742.5 1071.4,749.4 1073.1,744.8 1074.7,733.4 1076.3,740.9 1077.9,765.3 1079.6,768.8 1081.2,753.2 1082.8,751.7 1084.4,754.6 1086.0,744.9 1087.7,742.3 1089.3,754.5 1090.9,765.1 1092.5,775.1 1094.2,774.0 1095.8,739.6 1097.4,725.5 1099.0,733.2 1100.7,752.2 1102.3,762.1 1103.9,748.1 1105.5,749.3 1107.1,764.8 1108.8,765.0 1110.4,771.7 1112.0,766.6 1113.6,753.7 1115.3,729.7 1116.9,736.0 1118.5,739.7 1120.1,740.4 1121.7,759.9 1123.4,771.2 1125.0,765.7 1126.6,760.2 1128.2,749.5 1129.9,745.0 1131.5,758.1 1133.1,758.1 1134.7,740.9 1136.4,729.5 1138.0,731.5 1139.6,753.1 1141.2,780.9 1142.8,786.6 1144.5,767.2 1146.1,725.3 1147.7,716.4 1149.3,747.1 1151.0,764.5 1152.6,755.6 1154.2,750.7 1155.8,749.7 1157.4,766.0 1159.1,764.2 1160.7,736.3 1162.3,750.8 1163.9,743.5 1165.6,744.2 1167.2,784.5 1168.8,742.2 1170.4,734.9 1172.1,739.6 1173.7,753.9 1175.3,785.0 1176.9,784.0 1178.5,742.3 1180.2,729.0 1181.8,727.9 1183.4,737.0 1185.0,766.9 1186.7,769.7 1188.3,750.8 1189.9,736.6 1191.5,735.1 1193.1,740.6 1194.8,767.1 1196.4,778.7 1198.0,768.8 1199.6,756.6 1201.3,743.0 1202.9,732.8 1204.5,747.0 1206.1,755.2 1207.8,744.0 1209.4,747.3 1211.0,750.7 1212.6,750.6 1214.2,766.2 1215.9,774.1 1217.5,757.1 1219.1,746.6 1220.7,740.8 1222.4,738.9 1224.0,753.4 1225.6,780.1 1227.2,785.5 1228.8,763.2 1230.5,726.1 1232.1,725.8 1233.7,734.4 1235.3,746.5 1237.0,753.9 1238.6,775.9 1240.2,776.8 1241.8,775.4 1243.5,788.9 1245.1,768.7 1246.7,719.1 1248.3,701.9 1249.9,707.1 1251.6,724.0 1253.2,767.4 1254.8,795.4 1256.4,802.3 1258.1,785.6 1259.7,738.0 1261.3,722.2 1262.9,725.0 1264.5,714.4 1266.2,755.9 1267.8,795.5 1269.4,792.9 1271.0,765.1 1272.7,735.6 1274.3,739.4 1275.9,722.4 1277.5,714.8 1279.2,741.6 1280.8,761.6 1282.4,779.0 1284.0,777.9 1285.6,774.5 1287.3,749.6 1288.9,725.2 1290.5,735.1 1292.1,776.8 1293.8,773.8 1295.4,741.4 1297.0,726.0"/>
<g stroke="#bebebe" stroke-width="4.6" fill="none"><line x1="1135" y1="638.8" x2="1297" y2="638.8"/><line x1="1135.2" y1="631.3" x2="1135.2" y2="646"/><line x1="1296.7" y1="631.3" x2="1296.7" y2="646"/></g>
<g stroke="#c0c0c0" stroke-width="2"><line x1="211.7" y1="427.6" x2="211.7" y2="585.6"/><line x1="204.4" y1="427.6" x2="219" y2="427.6"/><line x1="204.4" y1="585.6" x2="219" y2="585.6"/></g>
<circle cx="211.7" cy="506.4" r="4" fill="#000"/>
<text transform="translate(244.2,507) rotate(-90)" text-anchor="middle" font-size="24.2">Typical noise level</text>
<path d="M358.2,310.0 C359.2,309.0 361.9,309.5 364.1,304.1 C366.3,298.7 368.8,287.4 371.5,277.6 C374.2,267.8 377.4,254.4 380.3,245.3 C383.2,236.2 385.4,227.8 389.1,223.2 C392.8,218.5 398.1,219.0 402.4,217.4 C406.7,215.8 411.3,213.3 414.7,213.5 C418.1,213.7 419.8,215.5 422.9,218.8 C426.0,222.1 430.1,229.7 433.2,233.5 C436.2,237.3 438.5,241.8 441.2,241.8 C443.9,241.8 446.1,238.3 449.4,233.5 C452.7,228.7 457.3,218.1 461.2,212.9 C465.1,207.8 469.5,203.6 472.9,202.6 C476.3,201.6 478.9,203.9 481.8,207.1 C484.8,210.3 487.2,215.4 490.6,221.8 C494.0,228.2 498.2,238.5 502.4,245.3 C506.6,252.1 511.7,259.9 515.6,262.4 C519.5,264.8 522.2,262.1 525.9,260.0 C529.6,257.9 533.2,252.6 537.6,249.7 C542.0,246.8 546.5,246.3 552.4,242.4 C558.3,238.5 566.0,228.7 572.9,226.2 C579.8,223.7 588.1,228.8 593.5,227.6 C598.9,226.4 601.4,224.7 605.3,218.8 C609.2,212.9 613.7,198.3 617.1,192.4 C620.5,186.5 622.7,183.3 625.9,183.5 C629.1,183.7 632.3,184.5 636.2,193.8 C640.1,203.1 644.8,224.5 649.4,239.4 C654.0,254.3 659.4,269.3 664.1,283.5 C668.8,297.7 673.0,313.9 677.4,324.7 C681.8,335.5 685.6,341.2 690.6,348.2 C695.6,355.2 703.4,364.8 707.4,366.8 C711.4,368.8 712.0,365.1 714.7,360.0 C717.4,354.9 720.8,343.4 723.5,336.5 C726.2,329.6 728.5,322.9 730.9,318.8 C733.2,314.7 734.9,312.1 737.6,312.1 C740.3,312.1 744.2,317.1 747.1,318.8 C750.0,320.5 751.9,324.0 755.3,322.4 C758.7,320.8 763.3,312.8 767.6,309.4 C771.9,306.0 777.0,302.2 780.9,302.1 C784.8,302.0 787.5,305.2 791.2,308.5 C794.9,311.8 798.7,317.1 802.9,321.8 C807.1,326.5 812.3,330.1 816.2,336.5 C820.1,342.9 822.8,349.2 826.5,360.0 C830.2,370.8 834.3,388.3 838.2,401.2 C842.1,414.1 846.3,434.9 850.0,437.4 C853.7,439.8 857.1,428.8 860.3,415.9 C863.5,403.0 866.4,380.6 869.1,360.0 C871.8,339.4 873.8,315.9 876.5,292.4 C879.2,268.9 882.4,237.0 885.3,218.8 C888.2,200.7 891.6,189.6 894.1,183.5 C896.6,177.4 897.8,179.7 900.0,182.1 C902.2,184.5 904.7,189.6 907.4,198.2 C910.1,206.8 913.3,223.7 916.2,233.5 C919.1,243.3 921.8,251.7 925.0,257.1 C928.2,262.5 931.6,261.5 935.3,265.9 C939.0,270.3 942.9,276.1 947.1,283.5 C951.3,290.9 955.6,303.4 960.3,310.0 C964.9,316.6 970.4,319.4 975.0,323.2 C979.6,327.0 984.8,332.3 988.2,333.0 C991.6,333.7 993.6,329.8 995.6,327.6 C997.6,325.4 997.2,327.2 1000.0,319.6 C1002.8,312.0 1008.3,295.6 1012.5,282.0 C1016.7,268.4 1020.9,251.6 1025.1,238.0 C1029.3,224.4 1033.1,211.9 1037.6,200.4 C1042.0,188.9 1047.3,175.3 1051.8,169.0 C1056.2,162.7 1060.4,166.3 1064.3,162.7 C1068.2,159.0 1071.1,155.5 1075.3,147.1 C1079.5,138.7 1085.5,116.7 1089.5,112.3 C1093.5,107.9 1095.1,110.8 1099.5,120.5 C1103.9,130.2 1110.2,156.8 1116.1,170.6 C1122.0,184.4 1129.7,193.3 1134.9,203.5 C1140.1,213.7 1143.3,223.7 1147.5,231.8 C1151.7,239.9 1154.2,247.1 1160.0,252.2 C1165.8,257.3 1175.7,260.8 1182.0,262.2 C1188.3,263.6 1193.4,259.4 1197.6,260.6 C1201.8,261.8 1203.4,261.6 1207.1,269.4 C1210.8,277.1 1215.4,292.5 1219.6,307.1 C1223.8,321.8 1228.3,343.7 1232.2,357.3 C1236.1,370.9 1240.0,382.2 1243.1,388.6 C1246.2,395.0 1247.6,398.9 1251.0,395.8 C1254.4,392.7 1261.4,374.1 1263.5,369.8" fill="none" stroke="#00c6c6" stroke-width="2.5" stroke-linejoin="round"/>
<polyline fill="none" stroke="#0000ff" stroke-width="4.3" stroke-linejoin="round" stroke-linecap="round" points="330.3,276.0 331.3,277.0 332.3,275.8 333.3,276.9 334.3,276.3 335.3,276.9 336.3,275.9 337.3,276.9 338.3,276.8 339.3,276.3 340.3,276.1 341.3,275.8 342.3,276.3 343.3,276.9 344.3,276.5 345.3,276.7 346.3,277.5 347.3,276.3 348.3,276.8 349.3,277.2 350.3,276.9 351.3,276.8 352.3,276.6 353.3,277.9 354.3,276.4 355.3,276.2 356.3,276.9 357.3,277.7 358.3,277.5 359.3,276.4 360.3,277.0 361.3,276.8 362.3,276.4 363.3,276.8 364.3,276.8 365.3,276.4 366.3,277.6 367.3,276.0 368.3,277.3 369.3,277.9 370.3,277.8 371.3,276.4 372.3,276.1 373.3,275.0 374.3,276.1 375.3,277.9 376.3,274.8 377.3,274.7 378.3,276.4 379.3,276.1 380.3,274.2 381.3,275.5 382.3,275.7 383.3,274.2 384.3,276.0 385.3,274.2 386.3,275.9 387.3,275.1 388.3,274.4 389.3,273.6 390.3,274.5 391.3,274.6 392.3,274.5 393.3,274.0 394.3,274.2 395.3,275.0 396.3,273.5 397.3,274.0 398.3,274.4 399.3,274.0 400.3,274.5 401.3,275.0 402.3,273.5 403.3,273.8 404.3,271.3 405.3,273.2 406.3,273.9 407.3,272.5 408.3,274.2 409.3,271.7 410.3,274.1 411.3,272.6 412.3,272.2 413.3,272.5 414.3,272.6 415.3,272.0 416.3,271.7 417.3,272.2 418.3,273.3 419.3,272.8 420.3,273.4 421.3,271.9 422.3,272.0 423.3,272.0 424.3,272.3 425.3,272.5 426.3,273.4 427.3,272.5 428.3,272.0 429.3,272.9 430.3,271.2 431.3,270.7 432.3,272.2 433.3,271.7 434.3,271.6 435.3,272.2 436.3,271.1 437.3,271.2 438.3,271.6 439.3,271.7 440.3,271.9 441.3,271.2 442.3,271.2 443.3,269.1 444.3,271.8 445.3,269.6 446.3,270.7 447.3,272.6 448.3,270.4 449.3,269.4 450.3,271.7 451.3,270.0 452.3,270.2 453.3,270.2 454.3,270.8 455.3,270.7 456.3,270.0 457.3,270.9 458.3,269.3 459.3,270.4 460.3,269.4 461.3,270.3 462.3,269.2 463.3,269.3 464.3,270.7 465.3,268.7 466.3,268.6 467.3,269.8 468.3,269.1 469.3,268.9 470.3,269.1 471.3,270.7 472.3,268.3 473.3,268.8 474.3,269.0 475.3,268.1 476.3,268.7 477.3,269.1 478.3,267.9 479.3,269.4 480.3,267.6 481.3,268.3 482.3,268.6 483.3,270.7 484.3,266.9 485.3,268.3 486.3,270.0 487.3,267.5 488.3,268.7 489.3,268.0 490.3,266.7 491.3,268.0 492.3,267.0 493.3,267.6 494.3,266.4 495.3,268.0 496.3,265.6 497.3,267.2 498.3,268.2 499.3,267.5 500.3,266.8 501.3,266.8 502.3,266.6 503.3,268.9 504.3,266.8 505.3,266.7 506.3,266.1 507.3,266.2 508.3,267.0 509.3,266.0 510.3,265.8 511.3,265.9 512.3,266.0 513.3,266.3 514.3,265.7 515.3,265.9 516.3,265.4 517.3,266.8 518.3,265.9 519.3,265.5 520.3,265.9 521.3,265.6 522.3,264.4 523.3,265.3 524.3,266.7 525.3,265.7 526.3,266.2 527.3,264.7 528.3,264.0 529.3,264.6 530.3,266.0 531.3,264.2 532.3,264.3 533.3,265.7 534.3,264.6 535.3,264.5 536.3,264.9 537.3,264.6 538.3,264.3 539.3,264.6 540.3,263.8 541.3,264.3 542.3,264.7 543.3,263.4 544.3,264.0 545.3,263.2 546.3,264.5 547.3,264.4 548.3,264.6 549.3,264.6 550.3,264.5 551.3,264.2 552.3,263.0 553.3,264.2 554.3,262.8 555.3,265.1 556.3,263.6 557.3,263.7 558.3,262.3 559.3,263.9 560.3,264.0 561.3,261.8 562.3,262.5 563.3,268.5 564.3,268.3 565.3,269.8 566.3,264.3 567.3,261.8 568.3,263.3 569.3,262.3 570.3,263.5 571.3,260.5 572.3,262.0 573.3,263.1 574.3,261.6 575.3,263.0 576.3,261.7 577.3,262.8 578.3,262.4 579.3,261.5 580.3,261.2 581.3,261.6 582.3,262.5 583.3,261.6 584.3,261.0 585.3,263.9 586.3,260.2 587.3,261.1 588.3,261.6 589.3,260.4 590.3,261.1 591.3,260.7 592.3,259.8 593.3,261.2 594.3,259.9 595.3,260.1 596.3,261.5 597.3,259.7 598.3,260.9 599.3,261.3 600.3,261.0 601.3,260.6 602.3,260.0 603.3,259.0 604.3,260.1 605.3,260.3 606.3,259.5 607.3,259.0 608.3,260.3 609.3,258.8 610.3,259.9 611.3,259.1 612.3,258.1 613.3,260.5 614.3,259.7 615.3,259.6 616.3,258.0 617.3,258.9 618.3,259.1 619.3,258.3 620.3,260.0 621.3,257.2 622.3,259.1 623.3,257.1 624.3,257.3 625.3,257.4 626.3,258.7 627.3,257.7 628.3,257.6 629.3,257.4 630.3,256.9 631.3,257.2 632.3,257.1 633.3,257.5 634.3,257.4 635.3,255.8 636.3,257.0 637.3,258.4 638.3,257.0 639.3,257.2 640.3,256.7 641.3,256.6 642.3,257.0 643.3,256.0 644.3,256.8 645.3,255.6 646.3,257.1 647.3,255.6 648.3,257.2 649.3,257.4 650.3,255.4 651.3,257.1 652.3,256.2 653.3,257.3 654.3,256.0 655.3,256.2 656.3,256.1 657.3,257.2 658.3,254.8 659.3,256.8 660.3,256.2 661.3,255.7 662.3,255.9 663.3,256.7 664.3,256.6 665.3,257.2 666.3,255.4 667.3,254.4 668.3,255.3 669.3,255.6 670.3,255.3 671.3,256.5 672.3,257.3 673.3,255.8 674.3,254.2 675.3,256.3 676.3,255.1 677.3,255.6 678.3,256.2 679.3,255.9 680.3,255.6 681.3,255.8 682.3,256.2 683.3,256.1 684.3,257.2 685.3,253.4 686.3,255.1 687.3,255.3 688.3,256.3 689.3,255.9 690.3,256.4 691.3,254.7 692.3,255.6 693.3,256.3 694.3,255.8 695.3,255.5 696.3,256.0 697.3,257.1 698.3,254.3 699.3,257.0 700.3,256.1 701.3,255.2 702.3,256.4 703.3,255.9 704.3,256.8 705.3,255.3 706.3,256.7 707.3,255.3 708.3,256.2 709.3,256.5 710.3,255.9 711.3,256.5 712.3,255.6 713.3,256.8 714.3,255.7 715.3,255.5 716.3,256.0 717.3,256.0 718.3,255.5 719.3,256.7 720.3,256.0 721.3,256.6 722.3,255.0 723.3,255.2 724.3,256.0 725.3,255.5 726.3,256.2 727.3,256.7 728.3,257.1 729.3,257.4 730.3,256.9 731.3,255.8 732.3,256.8 733.3,256.0 734.3,256.8 735.3,255.6 736.3,257.5 737.3,256.8 738.3,256.3 739.3,255.5 740.3,256.8 741.3,256.2 742.3,256.8 743.3,256.1 744.3,256.2 745.3,257.1 746.3,257.8 747.3,255.7 748.3,256.6 749.3,257.0 750.3,256.6 751.3,256.4 752.3,258.4 753.3,256.2 754.3,257.1 755.3,256.5 756.3,256.8 757.3,255.2 758.3,257.6 759.3,256.8 760.3,256.2 761.3,258.2 762.3,256.8 763.3,256.5 764.3,256.4 765.3,257.8 766.3,257.1 767.3,256.8 768.3,256.1 769.3,256.4 770.3,257.4 771.3,257.1 772.3,255.6 773.3,256.5 774.3,257.4 775.3,259.2 776.3,256.7 777.3,255.6 778.3,257.8 779.3,256.9 780.3,256.3 781.3,257.7 782.3,257.1 783.3,256.6 784.3,256.4 785.3,257.3 786.3,257.5 787.3,256.1 788.3,258.2 789.3,256.5 790.3,258.5 791.3,257.7 792.3,257.4 793.3,257.8 794.3,257.1 795.3,257.5 796.3,258.8 797.3,257.2 798.3,258.2 799.3,256.9 800.3,257.6 801.3,258.4 802.3,256.8 803.3,257.9 804.3,256.1 805.3,256.9 806.3,257.4 807.3,258.4 808.3,258.3 809.3,257.1 810.3,257.7 811.3,258.0 812.3,256.7 813.3,258.2 814.3,258.9 815.3,258.8 816.3,257.5 817.3,257.6 818.3,257.3 819.3,257.6 820.3,257.9 821.3,258.6 822.3,258.2 823.3,257.5 824.3,258.9 825.3,259.0 826.3,257.9 827.3,258.2 828.3,258.4 829.3,257.2 830.3,258.6 831.3,259.1 832.3,260.1 833.3,258.8 834.3,258.5 835.3,258.7 836.3,259.3 837.3,259.5 838.3,258.3 839.3,259.1 840.3,259.5 841.3,257.5 842.3,260.1 843.3,259.0 844.3,259.9 845.3,259.2 846.3,259.1 847.3,259.3 848.3,259.7 849.3,260.2 850.3,259.5 851.3,258.9 852.3,259.3 853.3,259.2 854.3,260.6 855.3,259.5 856.3,261.4 857.3,260.5 858.3,260.4 859.3,261.6 860.3,260.4 861.3,260.6 862.3,261.5 863.3,261.5 864.3,260.3 865.3,263.0 866.3,261.7 867.3,260.5 868.3,261.4 869.3,262.3 870.3,261.9 871.3,262.4 872.3,263.7 873.3,262.7 874.3,263.6 875.3,262.7 876.3,261.8 877.3,263.6 878.3,262.0 879.3,263.3 880.3,263.2 881.3,262.2 882.3,262.4 883.3,262.7 884.3,263.0 885.3,263.6 886.3,262.5 887.3,263.8 888.3,262.9 889.3,261.6 890.3,261.5 891.3,261.9 892.3,261.3 893.3,261.5 894.3,262.0 895.3,261.5 896.3,261.9 897.3,260.5 898.3,260.3 899.3,259.8 900.3,259.3 901.3,260.2 902.3,260.5 903.3,260.2 904.3,260.2 905.3,261.6 906.3,259.1 907.3,259.6 908.3,259.3 909.3,258.9 910.3,260.4 911.3,259.3 912.3,260.1 913.3,258.2 914.3,260.3 915.3,260.5 916.3,258.0 917.3,258.5 918.3,258.3 919.3,258.7 920.3,257.2 921.3,258.4 922.3,258.4 923.3,257.3 924.3,255.9 925.3,257.0 926.3,257.1 927.3,257.8 928.3,256.7 929.3,256.1 930.3,257.5 931.3,257.3 932.3,257.6 933.3,257.1 934.3,257.8 935.3,257.4 936.3,255.7 937.3,257.2 938.3,257.7 939.3,257.1 940.3,258.2 941.3,256.8 942.3,257.7 943.3,256.2 944.3,257.2 945.3,256.8 946.3,256.4 947.3,256.2 948.3,257.4 949.3,257.5 950.3,256.7 951.3,256.3 952.3,256.6 953.3,257.8 954.3,256.4 955.3,258.1 956.3,256.0 957.3,257.5 958.3,257.8 959.3,258.2 960.3,257.0 961.3,256.8 962.3,256.3 963.3,258.1 964.3,257.3 965.3,257.1 966.3,257.1 967.3,257.6 968.3,257.5 969.3,258.3 970.3,255.8 971.3,258.1 972.3,257.1 973.3,257.4 974.3,257.3 975.3,257.4 976.3,258.1 977.3,257.7 978.3,256.5 979.3,257.5 980.3,257.5 981.3,257.9 982.3,257.6 983.3,257.5 984.3,258.4 985.3,256.8 986.3,259.3 987.3,257.2 988.3,256.9 989.3,258.3 990.3,258.5 991.3,258.6 992.3,258.8 993.3,258.1 994.3,257.8 995.3,258.0 996.3,257.8 997.3,257.4 998.3,259.0 999.3,259.2 1000.3,257.8 1001.3,257.6 1002.3,257.3 1003.3,256.4 1004.3,257.1 1005.3,257.2 1006.3,257.5 1007.3,256.8 1008.3,256.0 1009.3,257.9 1010.3,258.7 1011.3,255.7 1012.3,257.2 1013.3,257.9 1014.3,256.3 1015.3,256.1 1016.3,257.2 1017.3,256.9 1018.3,256.6 1019.3,258.3 1020.3,258.1 1021.3,257.4 1022.3,256.9 1023.3,256.6 1024.3,257.5 1025.3,256.6 1026.3,257.9 1027.3,257.6 1028.3,256.2 1029.3,257.2 1030.3,257.8 1031.3,257.0 1032.3,255.8 1033.3,256.3 1034.3,256.2 1035.3,256.5 1036.3,256.4 1037.3,256.0 1038.3,256.9 1039.3,257.2 1040.3,255.8 1041.3,255.1 1042.3,256.4 1043.3,256.1 1044.3,256.4 1045.3,255.5 1046.3,256.2 1047.3,255.2 1048.3,256.5 1049.3,256.8 1050.3,254.7 1051.3,253.3 1052.3,254.7 1053.3,254.6 1054.3,254.9 1055.3,254.7 1056.3,254.9 1057.3,256.4 1058.3,253.8 1059.3,253.7 1060.3,254.2 1061.3,252.3 1062.3,254.1 1063.3,252.9 1064.3,252.2 1065.3,252.4 1066.3,253.3 1067.3,253.4 1068.3,253.5 1069.3,252.8 1070.3,251.8 1071.3,252.6 1072.3,251.9 1073.3,253.6 1074.3,250.1 1075.3,252.7 1076.3,251.9 1077.3,251.5 1078.3,251.0 1079.3,250.5 1080.3,250.0 1081.3,249.4 1082.3,252.0 1083.3,251.0 1084.3,250.6 1085.3,250.2 1086.3,248.4 1087.3,249.4 1088.3,249.6 1089.3,250.2 1090.3,248.4 1091.3,249.2 1092.3,248.8 1093.3,248.9 1094.3,248.1 1095.3,248.9 1096.3,248.6 1097.3,247.0 1098.3,249.2 1099.3,249.8 1100.3,247.4 1101.3,248.9 1102.3,247.2 1103.3,247.4 1104.3,249.0 1105.3,247.7 1106.3,248.6 1107.3,247.6 1108.3,248.0 1109.3,247.0 1110.3,248.1 1111.3,248.3 1112.3,247.3 1113.3,246.3 1114.3,246.4 1115.3,245.8 1116.3,246.9 1117.3,246.7 1118.3,245.7 1119.3,246.8 1120.3,245.6 1121.3,247.3 1122.3,246.4 1123.3,246.9 1124.3,245.0 1125.3,244.7 1126.3,244.0 1127.3,245.7 1128.3,244.3 1129.3,246.1 1130.3,245.1 1131.3,245.4 1132.3,243.8 1133.3,244.2 1134.3,244.7 1135.3,245.0 1136.3,243.3 1137.3,244.5 1138.3,243.5 1139.3,244.6 1140.3,243.7 1141.3,243.6 1142.3,244.0 1143.3,244.4 1144.3,243.3 1145.3,244.3 1146.3,242.5 1147.3,243.4 1148.3,242.2 1149.3,243.1 1150.3,242.2 1151.3,242.8 1152.3,243.2 1153.3,241.9 1154.3,241.3 1155.3,242.4 1156.3,242.8 1157.3,242.5 1158.3,241.6 1159.3,242.9 1160.3,242.0 1161.3,242.7 1162.3,241.4 1163.3,242.3 1164.3,242.8 1165.3,241.4 1166.3,241.6 1167.3,242.2 1168.3,242.1 1169.3,241.9 1170.3,241.5 1171.3,240.3 1172.3,241.4 1173.3,240.4 1174.3,241.3 1175.3,239.5 1176.3,242.2 1177.3,242.5 1178.3,241.4 1179.3,240.3 1180.3,240.7 1181.3,241.5 1182.3,241.3 1183.3,240.2 1184.3,241.5 1185.3,241.1 1186.3,240.9 1187.3,240.2 1188.3,240.4 1189.3,239.8 1190.3,240.4 1191.3,239.7 1192.3,241.0 1193.3,240.1 1194.3,240.2 1195.3,240.2 1196.3,240.1 1197.3,238.8 1198.3,240.7 1199.3,239.8 1200.3,239.2 1201.3,238.8 1202.3,239.0 1203.3,239.0 1204.3,239.4 1205.3,238.7 1206.3,239.3 1207.3,239.3 1208.3,238.6 1209.3,240.7 1210.3,238.9 1211.3,239.2 1212.3,238.9 1213.3,238.7 1214.3,239.3 1215.3,239.9 1216.3,238.8 1217.3,238.3 1218.3,239.4 1219.3,237.4 1220.3,239.1 1221.3,238.9 1222.3,239.3 1223.3,238.0 1224.3,238.8 1225.3,238.4 1226.3,238.8 1227.3,239.7 1228.3,239.1 1229.3,238.9 1230.3,240.2 1231.3,239.4 1232.3,237.9 1233.3,238.7 1234.3,239.8 1235.3,239.8 1236.3,239.7 1237.3,239.8 1238.3,238.9 1239.3,239.6 1240.3,238.8 1241.3,239.1 1242.3,239.1 1243.3,239.2 1244.3,239.6 1245.3,239.7 1246.3,239.3 1247.3,240.7 1248.3,239.6 1249.3,241.1 1250.3,240.7 1251.3,239.1 1252.3,240.7 1253.3,239.1 1254.3,241.2 1255.3,240.4 1256.3,239.5 1257.3,238.6 1258.3,240.1 1259.3,239.4 1260.3,241.4 1261.3,239.7 1262.3,240.6 1263.3,241.2 1264.3,240.9 1265.3,241.2 1266.3,240.9 1267.3,241.8 1268.3,240.6 1269.3,241.8 1270.3,240.6 1271.3,241.7 1272.3,240.9 1273.3,241.7 1274.3,242.3 1275.3,242.9 1276.3,240.8 1277.3,241.6 1278.3,241.6 1279.3,243.3 1280.3,241.9 1281.3,243.1 1282.3,242.3 1283.3,241.6 1284.3,242.7 1285.3,241.8 1286.3,243.1 1287.3,243.2 1288.3,243.5 1289.3,241.8 1290.3,243.6 1291.3,243.2 1292.3,241.1 1293.3,244.0 1294.3,243.6 1295.3,241.6 1296.3,242.6 1297.3,241.3 1298.3,242.2 1299.3,242.4 1300.3,242.7 1301.3,241.6 1302.3,242.1 1303.3,241.4 1304.3,242.4"/>
<g stroke="#000" stroke-width="2.7" fill="none">
<path d="M163.0,110.4 L1459.0,110.4 L1459.0,902.6 L163.0,902.6 Z"/>
</g>
<g stroke="#3cbcbc" stroke-width="1.6" fill="none">
<line x1="325" y1="308.5" x2="1346" y2="308.5"/>
<line x1="1346" y1="110.4" x2="1346" y2="506.5"/>
<line x1="1329.5" y1="110.4" x2="1362" y2="110.4"/><line x1="1329.5" y1="506.5" x2="1362" y2="506.5"/>
<line x1="1346" y1="150.0" x2="1354" y2="150.0"/>
<line x1="1346" y1="189.6" x2="1354" y2="189.6"/>
<line x1="1346" y1="229.2" x2="1354" y2="229.2"/>
<line x1="1346" y1="268.8" x2="1354" y2="268.8"/>
<line x1="1329.5" y1="308.5" x2="1362" y2="308.5"/>
<line x1="1346" y1="348.1" x2="1354" y2="348.1"/>
<line x1="1346" y1="387.7" x2="1354" y2="387.7"/>
<line x1="1346" y1="427.3" x2="1354" y2="427.3"/>
<line x1="1346" y1="466.9" x2="1354" y2="466.9"/>
</g>
<path d="M151.0,902.6H163.0M157.0,863.0H163.0M151.0,823.4H163.0M157.0,783.8H163.0M151.0,744.2H163.0M157.0,704.5H163.0M151.0,664.9H163.0M157.0,625.3H163.0M151.0,585.7H163.0M157.0,546.1H163.0M151.0,506.5H163.0M157.0,466.9H163.0M151.0,427.3H163.0M157.0,387.7H163.0M151.0,348.1H163.0M157.0,308.4H163.0M151.0,268.8H163.0M157.0,229.2H163.0M151.0,189.6H163.0M157.0,150.0H163.0M151.0,110.4H163.0M163.0,902.6V914.6M163.0,110.4V98.4M179.2,902.6V908.6M179.2,110.4V104.4M195.4,902.6V908.6M195.4,110.4V104.4M211.6,902.6V908.6M211.6,110.4V104.4M227.8,902.6V908.6M227.8,110.4V104.4M244.0,902.6V908.6M244.0,110.4V104.4M260.2,902.6V908.6M260.2,110.4V104.4M276.4,902.6V908.6M276.4,110.4V104.4M292.6,902.6V908.6M292.6,110.4V104.4M308.8,902.6V908.6M308.8,110.4V104.4M325.0,902.6V914.6M325.0,110.4V98.4M341.2,902.6V908.6M341.2,110.4V104.4M357.4,902.6V908.6M357.4,110.4V104.4M373.6,902.6V908.6M373.6,110.4V104.4M389.8,902.6V908.6M389.8,110.4V104.4M406.0,902.6V908.6M406.0,110.4V104.4M422.2,902.6V908.6M422.2,110.4V104.4M438.4,902.6V908.6M438.4,110.4V104.4M454.6,902.6V908.6M454.6,110.4V104.4M470.8,902.6V908.6M470.8,110.4V104.4M487.0,902.6V914.6M487.0,110.4V98.4M503.2,902.6V908.6M503.2,110.4V104.4M519.4,902.6V908.6M519.4,110.4V104.4M535.6,902.6V908.6M535.6,110.4V104.4M551.8,902.6V908.6M551.8,110.4V104.4M568.0,902.6V908.6M568.0,110.4V104.4M584.2,902.6V908.6M584.2,110.4V104.4M600.4,902.6V908.6M600.4,110.4V104.4M616.6,902.6V908.6M616.6,110.4V104.4M632.8,902.6V908.6M632.8,110.4V104.4M649.0,902.6V914.6M649.0,110.4V98.4M665.2,902.6V908.6M665.2,110.4V104.4M681.4,902.6V908.6M681.4,110.4V104.4M697.6,902.6V908.6M697.6,110.4V104.4M713.8,902.6V908.6M713.8,110.4V104.4M730.0,902.6V908.6M730.0,110.4V104.4M746.2,902.6V908.6M746.2,110.4V104.4M762.4,902.6V908.6M762.4,110.4V104.4M778.6,902.6V908.6M778.6,110.4V104.4M794.8,902.6V908.6M794.8,110.4V104.4M811.0,902.6V914.6M811.0,110.4V98.4M827.2,902.6V908.6M827.2,110.4V104.4M843.4,902.6V908.6M843.4,110.4V104.4M859.6,902.6V908.6M859.6,110.4V104.4M875.8,902.6V908.6M875.8,110.4V104.4M892.0,902.6V908.6M892.0,110.4V104.4M908.2,902.6V908.6M908.2,110.4V104.4M924.4,902.6V908.6M924.4,110.4V104.4M940.6,902.6V908.6M940.6,110.4V104.4M956.8,902.6V908.6M956.8,110.4V104.4M973.0,902.6V914.6M973.0,110.4V98.4M989.2,902.6V908.6M989.2,110.4V104.4M1005.4,902.6V908.6M1005.4,110.4V104.4M1021.6,902.6V908.6M1021.6,110.4V104.4M1037.8,902.6V908.6M1037.8,110.4V104.4M1054.0,902.6V908.6M1054.0,110.4V104.4M1070.2,902.6V908.6M1070.2,110.4V104.4M1086.4,902.6V908.6M1086.4,110.4V104.4M1102.6,902.6V908.6M1102.6,110.4V104.4M1118.8,902.6V908.6M1118.8,110.4V104.4M1135.0,902.6V914.6M1135.0,110.4V98.4M1151.2,902.6V908.6M1151.2,110.4V104.4M1167.4,902.6V908.6M1167.4,110.4V104.4M1183.6,902.6V908.6M1183.6,110.4V104.4M1199.8,902.6V908.6M1199.8,110.4V104.4M1216.0,902.6V908.6M1216.0,110.4V104.4M1232.2,902.6V908.6M1232.2,110.4V104.4M1248.4,902.6V908.6M1248.4,110.4V104.4M1264.6,902.6V908.6M1264.6,110.4V104.4M1280.8,902.6V908.6M1280.8,110.4V104.4M1297.0,902.6V914.6M1297.0,110.4V98.4M1313.2,902.6V908.6M1313.2,110.4V104.4M1329.4,902.6V908.6M1329.4,110.4V104.4M1345.6,902.6V908.6M1345.6,110.4V104.4M1361.8,902.6V908.6M1361.8,110.4V104.4M1378.0,902.6V908.6M1378.0,110.4V104.4M1394.2,902.6V908.6M1394.2,110.4V104.4M1410.4,902.6V908.6M1410.4,110.4V104.4M1426.6,902.6V908.6M1426.6,110.4V104.4M1442.8,902.6V908.6M1442.8,110.4V104.4M1459.0,902.6V914.6M1459.0,110.4V98.4M1459.0,500.5H1465.0M1459.0,493.9H1465.0M1459.0,487.2H1465.0M1459.0,480.6H1465.0M1459.0,474.0H1465.0M1459.0,467.4H1465.0M1459.0,460.8H1465.0M1459.0,454.1H1465.0M1459.0,447.5H1465.0M1459.0,440.9H1471.0M1459.0,434.3H1465.0M1459.0,427.7H1465.0M1459.0,421.0H1465.0M1459.0,414.4H1465.0M1459.0,407.8H1465.0M1459.0,401.2H1465.0M1459.0,394.6H1465.0M1459.0,387.9H1465.0M1459.0,381.3H1465.0M1459.0,374.7H1471.0M1459.0,368.1H1465.0M1459.0,361.5H1465.0M1459.0,354.8H1465.0M1459.0,348.2H1465.0M1459.0,341.6H1465.0M1459.0,335.0H1465.0M1459.0,328.4H1465.0M1459.0,321.7H1465.0M1459.0,315.1H1465.0M1459.0,308.5H1471.0M1459.0,301.9H1465.0M1459.0,295.3H1465.0M1459.0,288.6H1465.0M1459.0,282.0H1465.0M1459.0,275.4H1465.0M1459.0,268.8H1465.0M1459.0,262.2H1465.0M1459.0,255.5H1465.0M1459.0,248.9H1465.0M1459.0,242.3H1471.0M1459.0,235.7H1465.0M1459.0,229.1H1465.0M1459.0,222.4H1465.0M1459.0,215.8H1465.0M1459.0,209.2H1465.0M1459.0,202.6H1465.0M1459.0,196.0H1465.0M1459.0,189.3H1465.0M1459.0,182.7H1465.0M1459.0,176.1H1471.0M1459.0,169.5H1465.0M1459.0,162.9H1465.0M1459.0,156.2H1465.0M1459.0,149.6H1465.0M1459.0,143.0H1465.0M1459.0,136.4H1465.0M1459.0,129.8H1465.0M1459.0,123.1H1465.0M1459.0,116.5H1465.0M1459.0,109.9H1471.0M1459.0,902.9H1471.0M1459.0,889.7H1465.0M1459.0,876.5H1465.0M1459.0,863.3H1465.0M1459.0,850.0H1465.0M1459.0,836.8H1471.0M1459.0,823.6H1465.0M1459.0,810.4H1465.0M1459.0,797.2H1465.0M1459.0,783.9H1465.0M1459.0,770.7H1471.0M1459.0,757.5H1465.0M1459.0,744.3H1465.0M1459.0,731.0H1465.0M1459.0,717.8H1465.0M1459.0,704.6H1471.0M1459.0,691.4H1465.0M1459.0,678.2H1465.0M1459.0,664.9H1465.0M1459.0,651.7H1465.0M1459.0,638.5H1471.0M1459.0,625.3H1465.0M1459.0,612.0H1465.0M1459.0,598.8H1465.0M1459.0,585.6H1465.0M1459.0,572.4H1471.0M1459.0,559.2H1465.0M1459.0,545.9H1465.0M1459.0,532.7H1465.0M1459.0,519.5H1465.0" stroke="#000" stroke-width="1.6" fill="none"/>
<g font-size="28.5" fill="#000">
<text x="140.0" y="912.8" text-anchor="end">−100</text>
<text x="140.0" y="833.6" text-anchor="end">−80</text>
<text x="140.0" y="754.4" text-anchor="end">−60</text>
<text x="140.0" y="675.1" text-anchor="end">−40</text>
<text x="140.0" y="595.9" text-anchor="end">−20</text>
<text x="140.0" y="516.7" text-anchor="end">0</text>
<text x="140.0" y="437.5" text-anchor="end">20</text>
<text x="140.0" y="358.3" text-anchor="end">40</text>
<text x="140.0" y="279.0" text-anchor="end">60</text>
<text x="140.0" y="199.8" text-anchor="end">80</text>
<text x="140.0" y="120.6" text-anchor="end">100</text>
<text x="163.0" y="946.2" text-anchor="middle">−10</text>
<text x="325.0" y="946.2" text-anchor="middle">0</text>
<text x="487.0" y="946.2" text-anchor="middle">10</text>
<text x="649.0" y="946.2" text-anchor="middle">20</text>
<text x="811.0" y="946.2" text-anchor="middle">30</text>
<text x="973.0" y="946.2" text-anchor="middle">40</text>
<text x="1135.0" y="946.2" text-anchor="middle">50</text>
<text x="1297.0" y="946.2" text-anchor="middle">60</text>
<text x="1459.0" y="946.2" text-anchor="middle">70</text>
<text x="1481.2" y="451.1">1019</text>
<text x="1481.2" y="384.9">1020</text>
<text x="1481.2" y="318.7">1021</text>
<text x="1481.2" y="252.5">1022</text>
<text x="1481.2" y="186.3">1023</text>
<text x="1561.5" y="913.1" text-anchor="end">−1500</text>
<text x="1561.5" y="847.0" text-anchor="end">−1000</text>
<text x="1561.5" y="780.9" text-anchor="end">−500</text>
<text x="1561.5" y="714.8" text-anchor="end">0</text>
<text x="1561.5" y="648.7" text-anchor="end">500</text>
<text x="1561.5" y="582.6" text-anchor="end">1000</text>
</g>
<text x="559" y="82.3" font-size="32.3" font-weight="bold">SCG_054 gravimeter Onsala Space Observatory, Sweden</text>
<text x="193" y="887.9" font-size="28" font-weight="bold">The latest 1−hour, 1−second sampling</text>
<text x="1429.2" y="887.8" font-size="27.7" font-weight="bold" text-anchor="end">End at 2022−01−28 10:59:59 UTC</text>
<text x="810.5" y="1000.2" font-size="36" text-anchor="middle">Time [min] from 2022−01−28 10:00:00 UTC</text>
<text transform="translate(49.1,505.5) rotate(-90)" font-size="36" text-anchor="middle">Obs’d Gravity [nm/s<tspan font-size="21.6" dy="-14.4">2</tspan><tspan dy="14.4">]</tspan></text>
<text transform="translate(1598.5,308.9) rotate(-90)" font-size="36" text-anchor="middle">Pressure [hPa]</text>
<text transform="translate(1615.2,704.6) rotate(-90)" font-size="36" text-anchor="middle">Tide [nm/s<tspan font-size="21.6" dy="-14.4">2</tspan><tspan dy="14.4">]</tspan></text>
<text transform="translate(1387,403.8) rotate(-90)" font-size="23.8">1 DIV = 0.5 hPa/h</text>
<text transform="translate(1430.1,403.8) rotate(-90)" font-size="23.5">average = 0.5481</text>
<rect x="167" y="18.7" width="372.4" height="162.3" fill="#fff" stroke="#808080" stroke-width="1.2"/>
<line x1="204.2" y1="39.4" x2="260.3" y2="39.4" stroke="#0000ff" stroke-width="1"/>
<circle cx="232.4" cy="39.4" r="4.2" fill="#0000ff"/>
<text x="279" y="47.6" font-size="24.2">Pressure</text>
<line x1="204.2" y1="69.8" x2="260.3" y2="69.8" stroke="#14c3c3" stroke-width="1"/>
<circle cx="232.4" cy="69.8" r="4.2" fill="#14c3c3"/>
<text x="279" y="78.0" font-size="24.2">dP/dt low−passed</text>
<line x1="204.2" y1="100.3" x2="260.3" y2="100.3" stroke="#000" stroke-width="2.6"/>
<text x="279" y="108.5" font-size="24.2">Residual</text>
<line x1="204.2" y1="130.7" x2="260.3" y2="130.7" stroke="#bebebe" stroke-width="3"/>
<text x="279" y="138.9" font-size="24.2">... last 10 min.</text>
<line x1="204.2" y1="161.1" x2="260.3" y2="161.1" stroke="#ff0000" stroke-width="1"/>
<circle cx="232.4" cy="161.1" r="4.2" fill="#ff0000"/>
<text x="279" y="169.3" font-size="24.2">Theor.Tide</text>
</svg></body></html>
